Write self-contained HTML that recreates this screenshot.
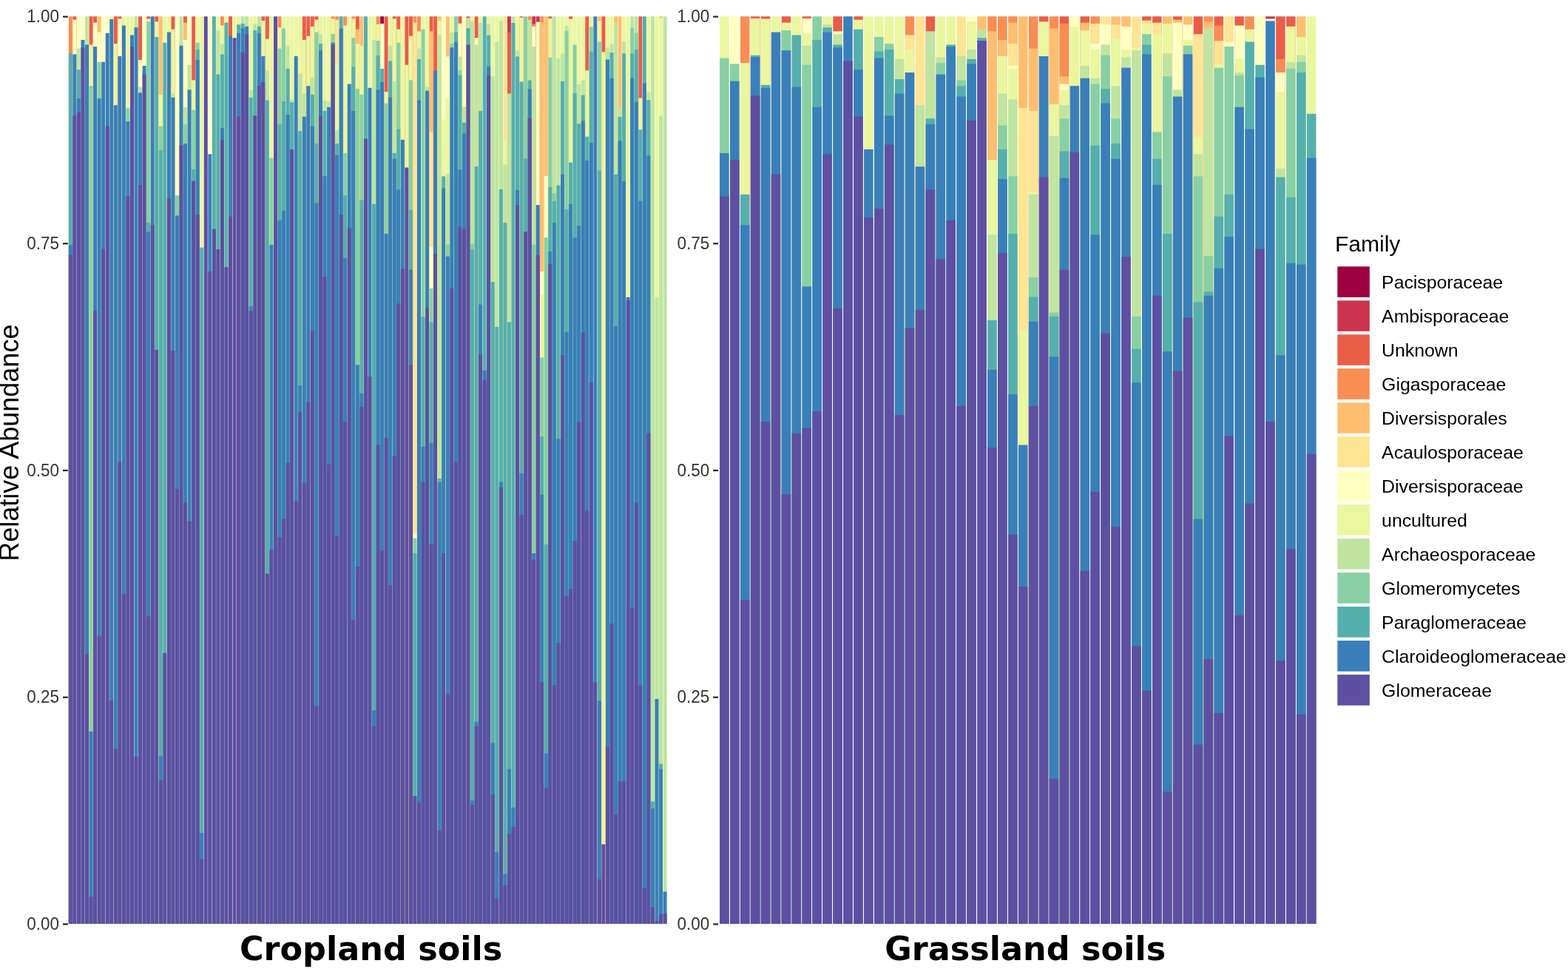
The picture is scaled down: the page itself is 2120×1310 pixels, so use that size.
<!DOCTYPE html>
<html><head><meta charset="utf-8"><style>
html,body{margin:0;padding:0;background:#fff;}
body{width:2120px;height:1310px;overflow:hidden;position:relative;}
svg{position:absolute;left:0;top:0;}
.tk{font-family:"Liberation Sans",Arial,sans-serif;font-size:22.5px;fill:#333;text-anchor:end;}
.lg{font-family:"Liberation Sans",Arial,sans-serif;font-size:24.8px;fill:#000;}
.ttl{font-family:"Liberation Sans",Arial,sans-serif;fill:#000;}
.fc{font-family:"DejaVu Sans",sans-serif;font-weight:bold;font-size:44.5px;fill:#000;}
</style></head><body>
<svg width="2120" height="1310" viewBox="0 0 2120 1310" shape-rendering="geometricPrecision">
<rect x="92.84" y="22.20" width="4.99" height="1226.80" fill="#F88E52"/>
<rect x="92.84" y="71.60" width="4.99" height="1177.40" fill="#55AFAD"/>
<rect x="92.84" y="331.60" width="4.99" height="917.40" fill="#397FB9"/>
<rect x="92.84" y="344.60" width="4.99" height="904.40" fill="#5E4FA2"/>
<rect x="98.38" y="22.20" width="4.99" height="1226.80" fill="#EA5D47"/>
<rect x="98.38" y="26.70" width="4.99" height="1222.30" fill="#FFFFBF"/>
<rect x="98.38" y="73.40" width="4.99" height="1175.60" fill="#397FB9"/>
<rect x="98.38" y="156.40" width="4.99" height="1092.60" fill="#5E4FA2"/>
<rect x="103.93" y="22.20" width="4.99" height="1226.80" fill="#FFFFBF"/>
<rect x="103.93" y="65.60" width="4.99" height="1183.40" fill="#BFE5A0"/>
<rect x="103.93" y="94.20" width="4.99" height="1154.80" fill="#55AFAD"/>
<rect x="103.93" y="133.10" width="4.99" height="1115.90" fill="#397FB9"/>
<rect x="103.93" y="151.30" width="4.99" height="1097.70" fill="#5E4FA2"/>
<rect x="109.47" y="22.20" width="4.99" height="1226.80" fill="#FFFFBF"/>
<rect x="109.47" y="53.90" width="4.99" height="1195.10" fill="#397FB9"/>
<rect x="109.47" y="64.30" width="4.99" height="1184.70" fill="#5E4FA2"/>
<rect x="115.01" y="22.20" width="4.99" height="1226.80" fill="#BFE5A0"/>
<rect x="115.01" y="60.40" width="4.99" height="1188.60" fill="#397FB9"/>
<rect x="115.01" y="884.00" width="4.99" height="365.00" fill="#5E4FA2"/>
<rect x="120.56" y="22.20" width="4.99" height="1226.80" fill="#EA5D47"/>
<rect x="120.56" y="60.40" width="4.99" height="1188.60" fill="#EAF79F"/>
<rect x="120.56" y="116.20" width="4.99" height="1132.80" fill="#88D0A4"/>
<rect x="120.56" y="988.80" width="4.99" height="260.20" fill="#397FB9"/>
<rect x="120.56" y="1212.40" width="4.99" height="36.60" fill="#5E4FA2"/>
<rect x="126.10" y="22.20" width="4.99" height="1226.80" fill="#EA5D47"/>
<rect x="126.10" y="30.60" width="4.99" height="1218.40" fill="#FFFFBF"/>
<rect x="126.10" y="63.00" width="4.99" height="1186.00" fill="#397FB9"/>
<rect x="126.10" y="420.00" width="4.99" height="829.00" fill="#5E4FA2"/>
<rect x="131.64" y="22.20" width="4.99" height="1226.80" fill="#FDBF6F"/>
<rect x="131.64" y="43.50" width="4.99" height="1205.50" fill="#FFFFBF"/>
<rect x="131.64" y="83.80" width="4.99" height="1165.20" fill="#88D0A4"/>
<rect x="131.64" y="133.10" width="4.99" height="1115.90" fill="#397FB9"/>
<rect x="131.64" y="859.80" width="4.99" height="389.20" fill="#5E4FA2"/>
<rect x="137.18" y="22.20" width="4.99" height="1226.80" fill="#FFFFBF"/>
<rect x="137.18" y="83.80" width="4.99" height="1165.20" fill="#397FB9"/>
<rect x="137.18" y="336.80" width="4.99" height="912.20" fill="#5E4FA2"/>
<rect x="142.73" y="22.20" width="4.99" height="1226.80" fill="#FFFFBF"/>
<rect x="142.73" y="44.80" width="4.99" height="1204.20" fill="#397FB9"/>
<rect x="142.73" y="170.70" width="4.99" height="1078.30" fill="#5E4FA2"/>
<rect x="148.27" y="22.20" width="4.99" height="1226.80" fill="#EAF79F"/>
<rect x="148.27" y="26.00" width="4.99" height="1223.00" fill="#397FB9"/>
<rect x="148.27" y="947.00" width="4.99" height="302.00" fill="#5E4FA2"/>
<rect x="153.81" y="22.20" width="4.99" height="1226.80" fill="#EA5D47"/>
<rect x="153.81" y="59.10" width="4.99" height="1189.90" fill="#EAF79F"/>
<rect x="153.81" y="142.20" width="4.99" height="1106.80" fill="#397FB9"/>
<rect x="153.81" y="1012.40" width="4.99" height="236.60" fill="#5E4FA2"/>
<rect x="159.36" y="22.20" width="4.99" height="1226.80" fill="#EA5D47"/>
<rect x="159.36" y="25.40" width="4.99" height="1223.60" fill="#FFFFBF"/>
<rect x="159.36" y="76.00" width="4.99" height="1173.00" fill="#397FB9"/>
<rect x="159.36" y="624.40" width="4.99" height="624.60" fill="#5E4FA2"/>
<rect x="164.90" y="22.20" width="4.99" height="1226.80" fill="#EAF79F"/>
<rect x="164.90" y="34.50" width="4.99" height="1214.50" fill="#397FB9"/>
<rect x="164.90" y="803.00" width="4.99" height="446.00" fill="#5E4FA2"/>
<rect x="170.44" y="22.20" width="4.99" height="1226.80" fill="#EAF79F"/>
<rect x="170.44" y="146.10" width="4.99" height="1102.90" fill="#88D0A4"/>
<rect x="170.44" y="164.20" width="4.99" height="1084.80" fill="#397FB9"/>
<rect x="170.44" y="265.50" width="4.99" height="983.50" fill="#5E4FA2"/>
<rect x="175.99" y="22.20" width="4.99" height="1226.80" fill="#EAF79F"/>
<rect x="175.99" y="47.40" width="4.99" height="1201.60" fill="#397FB9"/>
<rect x="175.99" y="63.00" width="4.99" height="1186.00" fill="#5E4FA2"/>
<rect x="181.53" y="22.20" width="4.99" height="1226.80" fill="#BFE5A0"/>
<rect x="181.53" y="37.10" width="4.99" height="1211.90" fill="#397FB9"/>
<rect x="181.53" y="1023.00" width="4.99" height="226.00" fill="#5E4FA2"/>
<rect x="187.07" y="22.20" width="4.99" height="1226.80" fill="#EA5D47"/>
<rect x="187.07" y="81.20" width="4.99" height="1167.80" fill="#FFFFBF"/>
<rect x="187.07" y="117.50" width="4.99" height="1131.50" fill="#BFE5A0"/>
<rect x="187.07" y="125.30" width="4.99" height="1123.70" fill="#397FB9"/>
<rect x="187.07" y="249.90" width="4.99" height="999.10" fill="#5E4FA2"/>
<rect x="192.61" y="22.20" width="4.99" height="1226.80" fill="#FFFFBF"/>
<rect x="192.61" y="89.00" width="4.99" height="1160.00" fill="#397FB9"/>
<rect x="192.61" y="100.60" width="4.99" height="1148.40" fill="#5E4FA2"/>
<rect x="198.16" y="22.20" width="4.99" height="1226.80" fill="#EA5D47"/>
<rect x="198.16" y="25.40" width="4.99" height="1223.60" fill="#EAF79F"/>
<rect x="198.16" y="29.30" width="4.99" height="1219.70" fill="#88D0A4"/>
<rect x="198.16" y="301.00" width="4.99" height="948.00" fill="#55AFAD"/>
<rect x="198.16" y="313.50" width="4.99" height="935.50" fill="#397FB9"/>
<rect x="198.16" y="833.40" width="4.99" height="415.60" fill="#5E4FA2"/>
<rect x="203.70" y="22.20" width="4.99" height="1226.80" fill="#397FB9"/>
<rect x="203.70" y="304.40" width="4.99" height="944.60" fill="#5E4FA2"/>
<rect x="209.24" y="22.20" width="4.99" height="1226.80" fill="#EA5D47"/>
<rect x="209.24" y="29.30" width="4.99" height="1219.70" fill="#EAF79F"/>
<rect x="209.24" y="50.00" width="4.99" height="1199.00" fill="#55AFAD"/>
<rect x="209.24" y="472.90" width="4.99" height="776.10" fill="#5E4FA2"/>
<rect x="214.79" y="22.20" width="4.99" height="1226.80" fill="#FDBF6F"/>
<rect x="214.79" y="127.90" width="4.99" height="1121.10" fill="#EAF79F"/>
<rect x="214.79" y="170.70" width="4.99" height="1078.30" fill="#88D0A4"/>
<rect x="214.79" y="203.20" width="4.99" height="1045.80" fill="#55AFAD"/>
<rect x="214.79" y="1021.90" width="4.99" height="227.10" fill="#397FB9"/>
<rect x="214.79" y="1055.00" width="4.99" height="194.00" fill="#5E4FA2"/>
<rect x="220.33" y="22.20" width="4.99" height="1226.80" fill="#EAF79F"/>
<rect x="220.33" y="57.80" width="4.99" height="1191.20" fill="#55AFAD"/>
<rect x="220.33" y="882.70" width="4.99" height="366.30" fill="#5E4FA2"/>
<rect x="225.87" y="22.20" width="4.99" height="1226.80" fill="#EAF79F"/>
<rect x="225.87" y="43.50" width="4.99" height="1205.50" fill="#397FB9"/>
<rect x="225.87" y="268.10" width="4.99" height="980.90" fill="#5E4FA2"/>
<rect x="231.42" y="22.20" width="4.99" height="1226.80" fill="#EA5D47"/>
<rect x="231.42" y="39.60" width="4.99" height="1209.40" fill="#EAF79F"/>
<rect x="231.42" y="126.60" width="4.99" height="1122.40" fill="#BFE5A0"/>
<rect x="231.42" y="131.80" width="4.99" height="1117.20" fill="#397FB9"/>
<rect x="231.42" y="474.00" width="4.99" height="775.00" fill="#5E4FA2"/>
<rect x="236.96" y="22.20" width="4.99" height="1226.80" fill="#FFFFBF"/>
<rect x="236.96" y="264.20" width="4.99" height="984.80" fill="#88D0A4"/>
<rect x="236.96" y="291.40" width="4.99" height="957.60" fill="#397FB9"/>
<rect x="236.96" y="661.40" width="4.99" height="587.60" fill="#5E4FA2"/>
<rect x="242.50" y="22.20" width="4.99" height="1226.80" fill="#BFE5A0"/>
<rect x="242.50" y="61.70" width="4.99" height="1187.30" fill="#397FB9"/>
<rect x="242.50" y="196.70" width="4.99" height="1052.30" fill="#5E4FA2"/>
<rect x="248.04" y="22.20" width="4.99" height="1226.80" fill="#EA5D47"/>
<rect x="248.04" y="30.60" width="4.99" height="1218.40" fill="#FDBF6F"/>
<rect x="248.04" y="53.90" width="4.99" height="1195.10" fill="#FFFFBF"/>
<rect x="248.04" y="144.80" width="4.99" height="1104.20" fill="#BFE5A0"/>
<rect x="248.04" y="168.10" width="4.99" height="1080.90" fill="#88D0A4"/>
<rect x="248.04" y="194.10" width="4.99" height="1054.90" fill="#397FB9"/>
<rect x="248.04" y="679.50" width="4.99" height="569.50" fill="#5E4FA2"/>
<rect x="253.59" y="22.20" width="4.99" height="1226.80" fill="#FFFFBF"/>
<rect x="253.59" y="87.70" width="4.99" height="1161.30" fill="#BFE5A0"/>
<rect x="253.59" y="121.40" width="4.99" height="1127.60" fill="#397FB9"/>
<rect x="253.59" y="704.70" width="4.99" height="544.30" fill="#5E4FA2"/>
<rect x="259.13" y="22.20" width="4.99" height="1226.80" fill="#EA5D47"/>
<rect x="259.13" y="108.40" width="4.99" height="1140.60" fill="#EAF79F"/>
<rect x="259.13" y="148.70" width="4.99" height="1100.30" fill="#88D0A4"/>
<rect x="259.13" y="229.10" width="4.99" height="1019.90" fill="#55AFAD"/>
<rect x="259.13" y="244.70" width="4.99" height="1004.30" fill="#5E4FA2"/>
<rect x="264.67" y="22.20" width="4.99" height="1226.80" fill="#EAF79F"/>
<rect x="264.67" y="57.80" width="4.99" height="1191.20" fill="#88D0A4"/>
<rect x="264.67" y="66.90" width="4.99" height="1182.10" fill="#55AFAD"/>
<rect x="264.67" y="81.20" width="4.99" height="1167.80" fill="#397FB9"/>
<rect x="264.67" y="290.10" width="4.99" height="958.90" fill="#5E4FA2"/>
<rect x="270.22" y="22.20" width="4.99" height="1226.80" fill="#EAF79F"/>
<rect x="270.22" y="334.60" width="4.99" height="914.40" fill="#55AFAD"/>
<rect x="270.22" y="1126.00" width="4.99" height="123.00" fill="#397FB9"/>
<rect x="270.22" y="1161.50" width="4.99" height="87.50" fill="#5E4FA2"/>
<rect x="275.76" y="22.20" width="4.99" height="1226.80" fill="#5E4FA2"/>
<rect x="281.30" y="22.20" width="4.99" height="1226.80" fill="#FFFFBF"/>
<rect x="281.30" y="208.40" width="4.99" height="1040.60" fill="#397FB9"/>
<rect x="281.30" y="367.10" width="4.99" height="881.90" fill="#5E4FA2"/>
<rect x="286.85" y="22.20" width="4.99" height="1226.80" fill="#55AFAD"/>
<rect x="286.85" y="309.60" width="4.99" height="939.40" fill="#5E4FA2"/>
<rect x="292.39" y="22.20" width="4.99" height="1226.80" fill="#EAF79F"/>
<rect x="292.39" y="41.00" width="4.99" height="1208.00" fill="#BFE5A0"/>
<rect x="292.39" y="100.60" width="4.99" height="1148.40" fill="#55AFAD"/>
<rect x="292.39" y="337.00" width="4.99" height="912.00" fill="#5E4FA2"/>
<rect x="297.93" y="22.20" width="4.99" height="1226.80" fill="#F88E52"/>
<rect x="297.93" y="34.50" width="4.99" height="1214.50" fill="#EAF79F"/>
<rect x="297.93" y="59.10" width="4.99" height="1189.90" fill="#BFE5A0"/>
<rect x="297.93" y="73.40" width="4.99" height="1175.60" fill="#55AFAD"/>
<rect x="297.93" y="173.30" width="4.99" height="1075.70" fill="#397FB9"/>
<rect x="297.93" y="188.90" width="4.99" height="1060.10" fill="#5E4FA2"/>
<rect x="303.47" y="22.20" width="4.99" height="1226.80" fill="#EAF79F"/>
<rect x="303.47" y="30.60" width="4.99" height="1218.40" fill="#55AFAD"/>
<rect x="303.47" y="361.10" width="4.99" height="887.90" fill="#5E4FA2"/>
<rect x="309.02" y="22.20" width="4.99" height="1226.80" fill="#EA5D47"/>
<rect x="309.02" y="48.70" width="4.99" height="1200.30" fill="#397FB9"/>
<rect x="309.02" y="292.70" width="4.99" height="956.30" fill="#5E4FA2"/>
<rect x="314.56" y="22.20" width="4.99" height="1226.80" fill="#EAF79F"/>
<rect x="314.56" y="51.30" width="4.99" height="1197.70" fill="#5E4FA2"/>
<rect x="320.10" y="22.20" width="4.99" height="1226.80" fill="#EAF79F"/>
<rect x="320.10" y="33.20" width="4.99" height="1215.80" fill="#55AFAD"/>
<rect x="320.10" y="44.80" width="4.99" height="1204.20" fill="#397FB9"/>
<rect x="320.10" y="157.70" width="4.99" height="1091.30" fill="#5E4FA2"/>
<rect x="325.65" y="22.20" width="4.99" height="1226.80" fill="#BFE5A0"/>
<rect x="325.65" y="31.90" width="4.99" height="1217.10" fill="#55AFAD"/>
<rect x="325.65" y="38.40" width="4.99" height="1210.60" fill="#397FB9"/>
<rect x="325.65" y="70.80" width="4.99" height="1178.20" fill="#5E4FA2"/>
<rect x="331.19" y="22.20" width="4.99" height="1226.80" fill="#BFE5A0"/>
<rect x="331.19" y="35.80" width="4.99" height="1213.20" fill="#397FB9"/>
<rect x="331.19" y="46.10" width="4.99" height="1202.90" fill="#5E4FA2"/>
<rect x="336.73" y="22.20" width="4.99" height="1226.80" fill="#EAF79F"/>
<rect x="336.73" y="121.40" width="4.99" height="1127.60" fill="#BFE5A0"/>
<rect x="336.73" y="131.80" width="4.99" height="1117.20" fill="#55AFAD"/>
<rect x="336.73" y="414.00" width="4.99" height="835.00" fill="#397FB9"/>
<rect x="336.73" y="420.00" width="4.99" height="829.00" fill="#5E4FA2"/>
<rect x="342.27" y="22.20" width="4.99" height="1226.80" fill="#EAF79F"/>
<rect x="342.27" y="31.90" width="4.99" height="1217.10" fill="#BFE5A0"/>
<rect x="342.27" y="41.00" width="4.99" height="1208.00" fill="#55AFAD"/>
<rect x="342.27" y="156.40" width="4.99" height="1092.60" fill="#5E4FA2"/>
<rect x="347.82" y="22.20" width="4.99" height="1226.80" fill="#BFE5A0"/>
<rect x="347.82" y="35.80" width="4.99" height="1213.20" fill="#55AFAD"/>
<rect x="347.82" y="44.80" width="4.99" height="1204.20" fill="#397FB9"/>
<rect x="347.82" y="116.20" width="4.99" height="1132.80" fill="#5E4FA2"/>
<rect x="353.36" y="22.20" width="4.99" height="1226.80" fill="#EA5D47"/>
<rect x="353.36" y="28.00" width="4.99" height="1221.00" fill="#EAF79F"/>
<rect x="353.36" y="76.00" width="4.99" height="1173.00" fill="#397FB9"/>
<rect x="353.36" y="111.00" width="4.99" height="1138.00" fill="#5E4FA2"/>
<rect x="358.90" y="22.20" width="4.99" height="1226.80" fill="#EA5D47"/>
<rect x="358.90" y="52.60" width="4.99" height="1196.40" fill="#EAF79F"/>
<rect x="358.90" y="95.50" width="4.99" height="1153.50" fill="#BFE5A0"/>
<rect x="358.90" y="135.70" width="4.99" height="1113.30" fill="#55AFAD"/>
<rect x="358.90" y="775.70" width="4.99" height="473.30" fill="#5E4FA2"/>
<rect x="364.45" y="22.20" width="4.99" height="1226.80" fill="#EAF79F"/>
<rect x="364.45" y="213.50" width="4.99" height="1035.50" fill="#88D0A4"/>
<rect x="364.45" y="331.00" width="4.99" height="918.00" fill="#397FB9"/>
<rect x="364.45" y="743.20" width="4.99" height="505.80" fill="#5E4FA2"/>
<rect x="369.99" y="22.20" width="4.99" height="1226.80" fill="#5E4FA2"/>
<rect x="375.53" y="22.20" width="4.99" height="1226.80" fill="#F88E52"/>
<rect x="375.53" y="37.10" width="4.99" height="1211.90" fill="#EAF79F"/>
<rect x="375.53" y="65.60" width="4.99" height="1183.40" fill="#88D0A4"/>
<rect x="375.53" y="168.10" width="4.99" height="1080.90" fill="#55AFAD"/>
<rect x="375.53" y="297.90" width="4.99" height="951.10" fill="#397FB9"/>
<rect x="375.53" y="726.40" width="4.99" height="522.60" fill="#5E4FA2"/>
<rect x="381.08" y="22.20" width="4.99" height="1226.80" fill="#EAF79F"/>
<rect x="381.08" y="38.40" width="4.99" height="1210.60" fill="#88D0A4"/>
<rect x="381.08" y="137.00" width="4.99" height="1112.00" fill="#55AFAD"/>
<rect x="381.08" y="284.90" width="4.99" height="964.10" fill="#397FB9"/>
<rect x="381.08" y="701.10" width="4.99" height="547.90" fill="#5E4FA2"/>
<rect x="386.62" y="22.20" width="4.99" height="1226.80" fill="#EAF79F"/>
<rect x="386.62" y="61.70" width="4.99" height="1187.30" fill="#BFE5A0"/>
<rect x="386.62" y="92.90" width="4.99" height="1156.10" fill="#55AFAD"/>
<rect x="386.62" y="155.10" width="4.99" height="1093.90" fill="#397FB9"/>
<rect x="386.62" y="625.60" width="4.99" height="623.40" fill="#5E4FA2"/>
<rect x="392.16" y="22.20" width="4.99" height="1226.80" fill="#EAF79F"/>
<rect x="392.16" y="134.40" width="4.99" height="1114.60" fill="#BFE5A0"/>
<rect x="392.16" y="138.30" width="4.99" height="1110.70" fill="#55AFAD"/>
<rect x="392.16" y="201.90" width="4.99" height="1047.10" fill="#5E4FA2"/>
<rect x="397.71" y="22.20" width="4.99" height="1226.80" fill="#EAF79F"/>
<rect x="397.71" y="76.00" width="4.99" height="1173.00" fill="#397FB9"/>
<rect x="397.71" y="677.10" width="4.99" height="571.90" fill="#5E4FA2"/>
<rect x="403.25" y="22.20" width="4.99" height="1226.80" fill="#EAF79F"/>
<rect x="403.25" y="99.30" width="4.99" height="1149.70" fill="#BFE5A0"/>
<rect x="403.25" y="177.20" width="4.99" height="1071.80" fill="#55AFAD"/>
<rect x="403.25" y="521.00" width="4.99" height="728.00" fill="#397FB9"/>
<rect x="403.25" y="557.00" width="4.99" height="692.00" fill="#5E4FA2"/>
<rect x="408.79" y="22.20" width="4.99" height="1226.80" fill="#EA5D47"/>
<rect x="408.79" y="53.90" width="4.99" height="1195.10" fill="#EAF79F"/>
<rect x="408.79" y="126.60" width="4.99" height="1122.40" fill="#BFE5A0"/>
<rect x="408.79" y="157.70" width="4.99" height="1091.30" fill="#397FB9"/>
<rect x="408.79" y="653.00" width="4.99" height="596.00" fill="#5E4FA2"/>
<rect x="414.33" y="22.20" width="4.99" height="1226.80" fill="#EA5D47"/>
<rect x="414.33" y="48.70" width="4.99" height="1200.30" fill="#EAF79F"/>
<rect x="414.33" y="116.20" width="4.99" height="1132.80" fill="#397FB9"/>
<rect x="414.33" y="543.80" width="4.99" height="705.20" fill="#5E4FA2"/>
<rect x="419.88" y="22.20" width="4.99" height="1226.80" fill="#EA5D47"/>
<rect x="419.88" y="35.80" width="4.99" height="1213.20" fill="#EAF79F"/>
<rect x="419.88" y="104.50" width="4.99" height="1144.50" fill="#BFE5A0"/>
<rect x="419.88" y="127.90" width="4.99" height="1121.10" fill="#55AFAD"/>
<rect x="419.88" y="170.70" width="4.99" height="1078.30" fill="#397FB9"/>
<rect x="419.88" y="447.60" width="4.99" height="801.40" fill="#5E4FA2"/>
<rect x="425.42" y="22.20" width="4.99" height="1226.80" fill="#EA5D47"/>
<rect x="425.42" y="26.70" width="4.99" height="1222.30" fill="#EAF79F"/>
<rect x="425.42" y="43.50" width="4.99" height="1205.50" fill="#88D0A4"/>
<rect x="425.42" y="194.10" width="4.99" height="1054.90" fill="#55AFAD"/>
<rect x="425.42" y="274.50" width="4.99" height="974.50" fill="#397FB9"/>
<rect x="425.42" y="954.50" width="4.99" height="294.50" fill="#5E4FA2"/>
<rect x="430.96" y="22.20" width="4.99" height="1226.80" fill="#EAF79F"/>
<rect x="430.96" y="46.10" width="4.99" height="1202.90" fill="#BFE5A0"/>
<rect x="430.96" y="59.10" width="4.99" height="1189.90" fill="#55AFAD"/>
<rect x="430.96" y="68.20" width="4.99" height="1180.80" fill="#397FB9"/>
<rect x="430.96" y="156.40" width="4.99" height="1092.60" fill="#5E4FA2"/>
<rect x="436.51" y="22.20" width="4.99" height="1226.80" fill="#EAF79F"/>
<rect x="436.51" y="135.70" width="4.99" height="1113.30" fill="#BFE5A0"/>
<rect x="436.51" y="150.00" width="4.99" height="1099.00" fill="#55AFAD"/>
<rect x="436.51" y="238.20" width="4.99" height="1010.80" fill="#397FB9"/>
<rect x="436.51" y="374.30" width="4.99" height="874.70" fill="#5E4FA2"/>
<rect x="442.05" y="22.20" width="4.99" height="1226.80" fill="#EAF79F"/>
<rect x="442.05" y="137.00" width="4.99" height="1112.00" fill="#BFE5A0"/>
<rect x="442.05" y="144.80" width="4.99" height="1104.20" fill="#397FB9"/>
<rect x="442.05" y="628.00" width="4.99" height="621.00" fill="#5E4FA2"/>
<rect x="447.59" y="22.20" width="4.99" height="1226.80" fill="#F88E52"/>
<rect x="447.59" y="25.40" width="4.99" height="1223.60" fill="#EAF79F"/>
<rect x="447.59" y="46.10" width="4.99" height="1202.90" fill="#88D0A4"/>
<rect x="447.59" y="57.80" width="4.99" height="1191.20" fill="#397FB9"/>
<rect x="447.59" y="60.40" width="4.99" height="1188.60" fill="#5E4FA2"/>
<rect x="453.13" y="22.20" width="4.99" height="1226.80" fill="#F88E52"/>
<rect x="453.13" y="26.70" width="4.99" height="1222.30" fill="#FEE594"/>
<rect x="453.13" y="87.70" width="4.99" height="1161.30" fill="#EAF79F"/>
<rect x="453.13" y="175.90" width="4.99" height="1073.10" fill="#BFE5A0"/>
<rect x="453.13" y="194.10" width="4.99" height="1054.90" fill="#55AFAD"/>
<rect x="453.13" y="209.70" width="4.99" height="1039.30" fill="#397FB9"/>
<rect x="453.13" y="725.20" width="4.99" height="523.80" fill="#5E4FA2"/>
<rect x="458.68" y="22.20" width="4.99" height="1226.80" fill="#55AFAD"/>
<rect x="458.68" y="38.40" width="4.99" height="1210.60" fill="#397FB9"/>
<rect x="458.68" y="290.10" width="4.99" height="958.90" fill="#5E4FA2"/>
<rect x="464.22" y="22.20" width="4.99" height="1226.80" fill="#F88E52"/>
<rect x="464.22" y="34.50" width="4.99" height="1214.50" fill="#EAF79F"/>
<rect x="464.22" y="207.00" width="4.99" height="1042.00" fill="#88D0A4"/>
<rect x="464.22" y="264.20" width="4.99" height="984.80" fill="#55AFAD"/>
<rect x="464.22" y="349.00" width="4.99" height="900.00" fill="#397FB9"/>
<rect x="464.22" y="570.30" width="4.99" height="678.70" fill="#5E4FA2"/>
<rect x="469.76" y="22.20" width="4.99" height="1226.80" fill="#EAF79F"/>
<rect x="469.76" y="113.60" width="4.99" height="1135.40" fill="#397FB9"/>
<rect x="469.76" y="308.30" width="4.99" height="940.70" fill="#5E4FA2"/>
<rect x="475.31" y="22.20" width="4.99" height="1226.80" fill="#F88E52"/>
<rect x="475.31" y="25.40" width="4.99" height="1223.60" fill="#EAF79F"/>
<rect x="475.31" y="51.30" width="4.99" height="1197.70" fill="#88D0A4"/>
<rect x="475.31" y="90.30" width="4.99" height="1158.70" fill="#55AFAD"/>
<rect x="475.31" y="150.00" width="4.99" height="1099.00" fill="#397FB9"/>
<rect x="475.31" y="838.20" width="4.99" height="410.80" fill="#5E4FA2"/>
<rect x="480.85" y="22.20" width="4.99" height="1226.80" fill="#EA5D47"/>
<rect x="480.85" y="39.60" width="4.99" height="1209.40" fill="#FDBF6F"/>
<rect x="480.85" y="59.10" width="4.99" height="1189.90" fill="#EAF79F"/>
<rect x="480.85" y="120.10" width="4.99" height="1128.90" fill="#88D0A4"/>
<rect x="480.85" y="493.30" width="4.99" height="755.70" fill="#397FB9"/>
<rect x="480.85" y="766.00" width="4.99" height="483.00" fill="#5E4FA2"/>
<rect x="486.39" y="22.20" width="4.99" height="1226.80" fill="#FDBF6F"/>
<rect x="486.39" y="61.70" width="4.99" height="1187.30" fill="#EAF79F"/>
<rect x="486.39" y="127.90" width="4.99" height="1121.10" fill="#88D0A4"/>
<rect x="486.39" y="270.60" width="4.99" height="978.40" fill="#55AFAD"/>
<rect x="486.39" y="531.80" width="4.99" height="717.20" fill="#397FB9"/>
<rect x="486.39" y="549.80" width="4.99" height="699.20" fill="#5E4FA2"/>
<rect x="491.94" y="22.20" width="4.99" height="1226.80" fill="#55AFAD"/>
<rect x="491.94" y="187.60" width="4.99" height="1061.40" fill="#5E4FA2"/>
<rect x="497.48" y="22.20" width="4.99" height="1226.80" fill="#EAF79F"/>
<rect x="497.48" y="118.80" width="4.99" height="1130.20" fill="#397FB9"/>
<rect x="497.48" y="509.00" width="4.99" height="740.00" fill="#5E4FA2"/>
<rect x="503.02" y="22.20" width="4.99" height="1226.80" fill="#EAF79F"/>
<rect x="503.02" y="53.90" width="4.99" height="1195.10" fill="#BFE5A0"/>
<rect x="503.02" y="275.80" width="4.99" height="973.20" fill="#55AFAD"/>
<rect x="503.02" y="960.40" width="4.99" height="288.60" fill="#397FB9"/>
<rect x="503.02" y="981.70" width="4.99" height="267.30" fill="#5E4FA2"/>
<rect x="508.57" y="22.20" width="4.99" height="1226.80" fill="#F88E52"/>
<rect x="508.57" y="33.00" width="4.99" height="1216.00" fill="#EAF79F"/>
<rect x="508.57" y="55.00" width="4.99" height="1194.00" fill="#88D0A4"/>
<rect x="508.57" y="75.00" width="4.99" height="1174.00" fill="#55AFAD"/>
<rect x="508.57" y="121.50" width="4.99" height="1127.50" fill="#397FB9"/>
<rect x="508.57" y="601.50" width="4.99" height="647.50" fill="#5E4FA2"/>
<rect x="514.11" y="22.20" width="4.99" height="1226.80" fill="#9E0142"/>
<rect x="514.11" y="31.90" width="4.99" height="1217.10" fill="#FFFFBF"/>
<rect x="514.11" y="92.90" width="4.99" height="1156.10" fill="#55AFAD"/>
<rect x="514.11" y="111.00" width="4.99" height="1138.00" fill="#397FB9"/>
<rect x="514.11" y="744.40" width="4.99" height="504.60" fill="#5E4FA2"/>
<rect x="519.65" y="22.20" width="4.99" height="1226.80" fill="#EA5D47"/>
<rect x="519.65" y="124.00" width="4.99" height="1125.00" fill="#EAF79F"/>
<rect x="519.65" y="139.60" width="4.99" height="1109.40" fill="#88D0A4"/>
<rect x="519.65" y="316.00" width="4.99" height="933.00" fill="#397FB9"/>
<rect x="519.65" y="591.90" width="4.99" height="657.10" fill="#5E4FA2"/>
<rect x="525.19" y="22.20" width="4.99" height="1226.80" fill="#EAF79F"/>
<rect x="525.19" y="61.70" width="4.99" height="1187.30" fill="#BFE5A0"/>
<rect x="525.19" y="82.50" width="4.99" height="1166.50" fill="#55AFAD"/>
<rect x="525.19" y="131.80" width="4.99" height="1117.20" fill="#397FB9"/>
<rect x="525.19" y="791.30" width="4.99" height="457.70" fill="#5E4FA2"/>
<rect x="530.74" y="22.20" width="4.99" height="1226.80" fill="#EA5D47"/>
<rect x="530.74" y="25.40" width="4.99" height="1223.60" fill="#EAF79F"/>
<rect x="530.74" y="110.00" width="4.99" height="1139.00" fill="#BFE5A0"/>
<rect x="530.74" y="207.00" width="4.99" height="1042.00" fill="#55AFAD"/>
<rect x="530.74" y="214.80" width="4.99" height="1034.20" fill="#397FB9"/>
<rect x="530.74" y="616.00" width="4.99" height="633.00" fill="#5E4FA2"/>
<rect x="536.28" y="22.20" width="4.99" height="1226.80" fill="#EA5D47"/>
<rect x="536.28" y="39.60" width="4.99" height="1209.40" fill="#EAF79F"/>
<rect x="536.28" y="57.80" width="4.99" height="1191.20" fill="#88D0A4"/>
<rect x="536.28" y="174.60" width="4.99" height="1074.40" fill="#55AFAD"/>
<rect x="536.28" y="256.40" width="4.99" height="992.60" fill="#397FB9"/>
<rect x="536.28" y="410.40" width="4.99" height="838.60" fill="#5E4FA2"/>
<rect x="541.82" y="22.20" width="4.99" height="1226.80" fill="#EAF79F"/>
<rect x="541.82" y="188.90" width="4.99" height="1060.10" fill="#397FB9"/>
<rect x="541.82" y="363.50" width="4.99" height="885.50" fill="#5E4FA2"/>
<rect x="547.37" y="22.20" width="4.99" height="1226.80" fill="#EA5D47"/>
<rect x="547.37" y="87.70" width="4.99" height="1161.30" fill="#EAF79F"/>
<rect x="547.37" y="226.50" width="4.99" height="1022.50" fill="#5E4FA2"/>
<rect x="552.91" y="22.20" width="4.99" height="1226.80" fill="#EA5D47"/>
<rect x="552.91" y="48.70" width="4.99" height="1200.30" fill="#EAF79F"/>
<rect x="552.91" y="108.40" width="4.99" height="1140.60" fill="#88D0A4"/>
<rect x="552.91" y="283.70" width="4.99" height="965.30" fill="#55AFAD"/>
<rect x="552.91" y="364.70" width="4.99" height="884.30" fill="#397FB9"/>
<rect x="552.91" y="493.30" width="4.99" height="755.70" fill="#5E4FA2"/>
<rect x="558.45" y="22.20" width="4.99" height="1226.80" fill="#F88E52"/>
<rect x="558.45" y="30.60" width="4.99" height="1218.40" fill="#FEE594"/>
<rect x="558.45" y="721.60" width="4.99" height="527.40" fill="#FFFFBF"/>
<rect x="558.45" y="727.60" width="4.99" height="521.40" fill="#88D0A4"/>
<rect x="558.45" y="748.00" width="4.99" height="501.00" fill="#55AFAD"/>
<rect x="558.45" y="1076.30" width="4.99" height="172.70" fill="#5E4FA2"/>
<rect x="564.00" y="22.20" width="4.99" height="1226.80" fill="#F88E52"/>
<rect x="564.00" y="42.30" width="4.99" height="1206.70" fill="#EAF79F"/>
<rect x="564.00" y="65.60" width="4.99" height="1183.40" fill="#BFE5A0"/>
<rect x="564.00" y="79.90" width="4.99" height="1169.10" fill="#55AFAD"/>
<rect x="564.00" y="135.70" width="4.99" height="1113.30" fill="#397FB9"/>
<rect x="564.00" y="1084.60" width="4.99" height="164.40" fill="#5E4FA2"/>
<rect x="569.54" y="22.20" width="4.99" height="1226.80" fill="#EAF79F"/>
<rect x="569.54" y="39.60" width="4.99" height="1209.40" fill="#88D0A4"/>
<rect x="569.54" y="428.40" width="4.99" height="820.60" fill="#55AFAD"/>
<rect x="569.54" y="603.90" width="4.99" height="645.10" fill="#397FB9"/>
<rect x="569.54" y="651.80" width="4.99" height="597.20" fill="#5E4FA2"/>
<rect x="575.08" y="22.20" width="4.99" height="1226.80" fill="#EAF79F"/>
<rect x="575.08" y="117.50" width="4.99" height="1131.50" fill="#BFE5A0"/>
<rect x="575.08" y="122.70" width="4.99" height="1126.30" fill="#397FB9"/>
<rect x="575.08" y="416.40" width="4.99" height="832.60" fill="#5E4FA2"/>
<rect x="580.62" y="22.20" width="4.99" height="1226.80" fill="#EA5D47"/>
<rect x="580.62" y="42.30" width="4.99" height="1206.70" fill="#FDBF6F"/>
<rect x="580.62" y="178.50" width="4.99" height="1070.50" fill="#FEE594"/>
<rect x="580.62" y="334.00" width="4.99" height="915.00" fill="#FFFFBF"/>
<rect x="580.62" y="390.00" width="4.99" height="859.00" fill="#88D0A4"/>
<rect x="580.62" y="435.60" width="4.99" height="813.40" fill="#55AFAD"/>
<rect x="580.62" y="599.10" width="4.99" height="649.90" fill="#397FB9"/>
<rect x="580.62" y="736.00" width="4.99" height="513.00" fill="#5E4FA2"/>
<rect x="586.17" y="22.20" width="4.99" height="1226.80" fill="#EA5D47"/>
<rect x="586.17" y="95.50" width="4.99" height="1153.50" fill="#397FB9"/>
<rect x="586.17" y="343.00" width="4.99" height="906.00" fill="#5E4FA2"/>
<rect x="591.71" y="22.20" width="4.99" height="1226.80" fill="#FDBF6F"/>
<rect x="591.71" y="28.40" width="4.99" height="1220.60" fill="#EAF79F"/>
<rect x="591.71" y="47.10" width="4.99" height="1201.90" fill="#BFE5A0"/>
<rect x="591.71" y="647.00" width="4.99" height="602.00" fill="#55AFAD"/>
<rect x="591.71" y="651.80" width="4.99" height="597.20" fill="#397FB9"/>
<rect x="591.71" y="1122.50" width="4.99" height="126.50" fill="#5E4FA2"/>
<rect x="597.25" y="22.20" width="4.99" height="1226.80" fill="#FFFFBF"/>
<rect x="597.25" y="162.00" width="4.99" height="1087.00" fill="#EAF79F"/>
<rect x="597.25" y="238.40" width="4.99" height="1010.60" fill="#55AFAD"/>
<rect x="597.25" y="254.50" width="4.99" height="994.50" fill="#397FB9"/>
<rect x="597.25" y="748.00" width="4.99" height="501.00" fill="#5E4FA2"/>
<rect x="602.80" y="22.20" width="4.99" height="1226.80" fill="#FDBF6F"/>
<rect x="602.80" y="76.40" width="4.99" height="1172.60" fill="#FFFFBF"/>
<rect x="602.80" y="132.50" width="4.99" height="1116.50" fill="#EAF79F"/>
<rect x="602.80" y="235.00" width="4.99" height="1014.00" fill="#BFE5A0"/>
<rect x="602.80" y="330.60" width="4.99" height="918.40" fill="#88D0A4"/>
<rect x="602.80" y="346.60" width="4.99" height="902.40" fill="#397FB9"/>
<rect x="602.80" y="938.00" width="4.99" height="311.00" fill="#5E4FA2"/>
<rect x="608.34" y="22.20" width="4.99" height="1226.80" fill="#EAF79F"/>
<rect x="608.34" y="43.70" width="4.99" height="1205.30" fill="#BFE5A0"/>
<rect x="608.34" y="59.10" width="4.99" height="1189.90" fill="#88D0A4"/>
<rect x="608.34" y="64.40" width="4.99" height="1184.60" fill="#397FB9"/>
<rect x="608.34" y="389.80" width="4.99" height="859.20" fill="#5E4FA2"/>
<rect x="613.88" y="22.20" width="4.99" height="1226.80" fill="#88D0A4"/>
<rect x="613.88" y="43.70" width="4.99" height="1205.30" fill="#55AFAD"/>
<rect x="613.88" y="57.10" width="4.99" height="1191.90" fill="#397FB9"/>
<rect x="613.88" y="624.80" width="4.99" height="624.20" fill="#5E4FA2"/>
<rect x="619.43" y="22.20" width="4.99" height="1226.80" fill="#EA5D47"/>
<rect x="619.43" y="31.70" width="4.99" height="1217.30" fill="#FFFFBF"/>
<rect x="619.43" y="76.40" width="4.99" height="1172.60" fill="#BFE5A0"/>
<rect x="619.43" y="95.20" width="4.99" height="1153.80" fill="#88D0A4"/>
<rect x="619.43" y="101.80" width="4.99" height="1147.20" fill="#55AFAD"/>
<rect x="619.43" y="229.10" width="4.99" height="1019.90" fill="#397FB9"/>
<rect x="619.43" y="306.60" width="4.99" height="942.40" fill="#5E4FA2"/>
<rect x="624.97" y="22.20" width="4.99" height="1226.80" fill="#FFFFBF"/>
<rect x="624.97" y="144.60" width="4.99" height="1104.40" fill="#BFE5A0"/>
<rect x="624.97" y="166.00" width="4.99" height="1083.00" fill="#55AFAD"/>
<rect x="624.97" y="180.60" width="4.99" height="1068.40" fill="#397FB9"/>
<rect x="624.97" y="309.20" width="4.99" height="939.80" fill="#5E4FA2"/>
<rect x="630.51" y="22.20" width="4.99" height="1226.80" fill="#EA5D47"/>
<rect x="630.51" y="24.30" width="4.99" height="1224.70" fill="#BFE5A0"/>
<rect x="630.51" y="38.40" width="4.99" height="1210.60" fill="#55AFAD"/>
<rect x="630.51" y="60.40" width="4.99" height="1188.60" fill="#5E4FA2"/>
<rect x="636.05" y="22.20" width="4.99" height="1226.80" fill="#EAF79F"/>
<rect x="636.05" y="28.40" width="4.99" height="1220.60" fill="#BFE5A0"/>
<rect x="636.05" y="329.30" width="4.99" height="919.70" fill="#88D0A4"/>
<rect x="636.05" y="337.30" width="4.99" height="911.70" fill="#55AFAD"/>
<rect x="636.05" y="1082.20" width="4.99" height="166.80" fill="#397FB9"/>
<rect x="636.05" y="1088.20" width="4.99" height="160.80" fill="#5E4FA2"/>
<rect x="641.60" y="22.20" width="4.99" height="1226.80" fill="#EA5D47"/>
<rect x="641.60" y="51.10" width="4.99" height="1197.90" fill="#FFFFBF"/>
<rect x="641.60" y="60.40" width="4.99" height="1188.60" fill="#BFE5A0"/>
<rect x="641.60" y="225.10" width="4.99" height="1023.90" fill="#55AFAD"/>
<rect x="641.60" y="975.80" width="4.99" height="273.20" fill="#397FB9"/>
<rect x="641.60" y="981.70" width="4.99" height="267.30" fill="#5E4FA2"/>
<rect x="647.14" y="22.20" width="4.99" height="1226.80" fill="#EAF79F"/>
<rect x="647.14" y="31.00" width="4.99" height="1218.00" fill="#BFE5A0"/>
<rect x="647.14" y="149.90" width="4.99" height="1099.10" fill="#55AFAD"/>
<rect x="647.14" y="411.60" width="4.99" height="837.40" fill="#397FB9"/>
<rect x="647.14" y="479.00" width="4.99" height="770.00" fill="#5E4FA2"/>
<rect x="652.68" y="22.20" width="4.99" height="1226.80" fill="#55AFAD"/>
<rect x="652.68" y="500.80" width="4.99" height="748.20" fill="#397FB9"/>
<rect x="652.68" y="513.80" width="4.99" height="735.20" fill="#5E4FA2"/>
<rect x="658.23" y="22.20" width="4.99" height="1226.80" fill="#EAF79F"/>
<rect x="658.23" y="32.40" width="4.99" height="1216.60" fill="#BFE5A0"/>
<rect x="658.23" y="47.70" width="4.99" height="1201.30" fill="#55AFAD"/>
<rect x="658.23" y="89.80" width="4.99" height="1159.20" fill="#397FB9"/>
<rect x="658.23" y="101.80" width="4.99" height="1147.20" fill="#5E4FA2"/>
<rect x="663.77" y="22.20" width="4.99" height="1226.80" fill="#EAF79F"/>
<rect x="663.77" y="103.20" width="4.99" height="1145.80" fill="#BFE5A0"/>
<rect x="663.77" y="381.10" width="4.99" height="867.90" fill="#55AFAD"/>
<rect x="663.77" y="1004.20" width="4.99" height="244.80" fill="#397FB9"/>
<rect x="663.77" y="1074.00" width="4.99" height="175.00" fill="#5E4FA2"/>
<rect x="669.31" y="22.20" width="4.99" height="1226.80" fill="#EAF79F"/>
<rect x="669.31" y="56.40" width="4.99" height="1192.60" fill="#BFE5A0"/>
<rect x="669.31" y="442.00" width="4.99" height="807.00" fill="#55AFAD"/>
<rect x="669.31" y="1152.00" width="4.99" height="97.00" fill="#397FB9"/>
<rect x="669.31" y="1214.80" width="4.99" height="34.20" fill="#5E4FA2"/>
<rect x="674.86" y="22.20" width="4.99" height="1226.80" fill="#EAF79F"/>
<rect x="674.86" y="28.40" width="4.99" height="1220.60" fill="#BFE5A0"/>
<rect x="674.86" y="255.80" width="4.99" height="993.20" fill="#55AFAD"/>
<rect x="674.86" y="651.80" width="4.99" height="597.20" fill="#397FB9"/>
<rect x="674.86" y="659.00" width="4.99" height="590.00" fill="#5E4FA2"/>
<rect x="680.40" y="22.20" width="4.99" height="1226.80" fill="#FEE594"/>
<rect x="680.40" y="189.00" width="4.99" height="1060.00" fill="#EAF79F"/>
<rect x="680.40" y="222.40" width="4.99" height="1026.60" fill="#BFE5A0"/>
<rect x="680.40" y="301.20" width="4.99" height="947.80" fill="#55AFAD"/>
<rect x="680.40" y="1181.60" width="4.99" height="67.40" fill="#397FB9"/>
<rect x="680.40" y="1197.00" width="4.99" height="52.00" fill="#5E4FA2"/>
<rect x="685.94" y="22.20" width="4.99" height="1226.80" fill="#CC344D"/>
<rect x="685.94" y="43.70" width="4.99" height="1205.30" fill="#EA5D47"/>
<rect x="685.94" y="126.50" width="4.99" height="1122.50" fill="#BFE5A0"/>
<rect x="685.94" y="435.50" width="4.99" height="813.50" fill="#55AFAD"/>
<rect x="685.94" y="1039.70" width="4.99" height="209.30" fill="#397FB9"/>
<rect x="685.94" y="1127.20" width="4.99" height="121.80" fill="#5E4FA2"/>
<rect x="691.48" y="22.20" width="4.99" height="1226.80" fill="#BFE5A0"/>
<rect x="691.48" y="31.00" width="4.99" height="1218.00" fill="#55AFAD"/>
<rect x="691.48" y="1091.70" width="4.99" height="157.30" fill="#397FB9"/>
<rect x="691.48" y="1117.70" width="4.99" height="131.30" fill="#5E4FA2"/>
<rect x="697.03" y="22.20" width="4.99" height="1226.80" fill="#EAF79F"/>
<rect x="697.03" y="68.40" width="4.99" height="1180.60" fill="#BFE5A0"/>
<rect x="697.03" y="76.40" width="4.99" height="1172.60" fill="#55AFAD"/>
<rect x="697.03" y="257.10" width="4.99" height="991.90" fill="#397FB9"/>
<rect x="697.03" y="277.20" width="4.99" height="971.80" fill="#5E4FA2"/>
<rect x="702.57" y="22.20" width="4.99" height="1226.80" fill="#EA5D47"/>
<rect x="702.57" y="23.70" width="4.99" height="1225.30" fill="#EAF79F"/>
<rect x="702.57" y="110.50" width="4.99" height="1138.50" fill="#55AFAD"/>
<rect x="702.57" y="639.80" width="4.99" height="609.20" fill="#397FB9"/>
<rect x="702.57" y="696.30" width="4.99" height="552.70" fill="#5E4FA2"/>
<rect x="708.11" y="22.20" width="4.99" height="1226.80" fill="#88D0A4"/>
<rect x="708.11" y="214.40" width="4.99" height="1034.60" fill="#55AFAD"/>
<rect x="708.11" y="313.20" width="4.99" height="935.80" fill="#5E4FA2"/>
<rect x="713.66" y="22.20" width="4.99" height="1226.80" fill="#F88E52"/>
<rect x="713.66" y="27.00" width="4.99" height="1222.00" fill="#BFE5A0"/>
<rect x="713.66" y="108.50" width="4.99" height="1140.50" fill="#55AFAD"/>
<rect x="713.66" y="120.50" width="4.99" height="1128.50" fill="#397FB9"/>
<rect x="713.66" y="160.00" width="4.99" height="1089.00" fill="#5E4FA2"/>
<rect x="719.20" y="22.20" width="4.99" height="1226.80" fill="#CC344D"/>
<rect x="719.20" y="32.40" width="4.99" height="1216.60" fill="#F88E52"/>
<rect x="719.20" y="35.70" width="4.99" height="1213.30" fill="#FFFFBF"/>
<rect x="719.20" y="63.10" width="4.99" height="1185.90" fill="#BFE5A0"/>
<rect x="719.20" y="330.60" width="4.99" height="918.40" fill="#88D0A4"/>
<rect x="719.20" y="748.00" width="4.99" height="501.00" fill="#397FB9"/>
<rect x="719.20" y="756.40" width="4.99" height="492.60" fill="#5E4FA2"/>
<rect x="724.74" y="22.20" width="4.99" height="1226.80" fill="#CC344D"/>
<rect x="724.74" y="29.70" width="4.99" height="1219.30" fill="#FFFFBF"/>
<rect x="724.74" y="277.20" width="4.99" height="971.80" fill="#397FB9"/>
<rect x="724.74" y="345.30" width="4.99" height="903.70" fill="#5E4FA2"/>
<rect x="730.29" y="22.20" width="4.99" height="1226.80" fill="#F88E52"/>
<rect x="730.29" y="30.40" width="4.99" height="1218.60" fill="#FDBF6F"/>
<rect x="730.29" y="367.00" width="4.99" height="882.00" fill="#FFFFBF"/>
<rect x="730.29" y="398.50" width="4.99" height="850.50" fill="#EAF79F"/>
<rect x="730.29" y="483.40" width="4.99" height="765.60" fill="#88D0A4"/>
<rect x="730.29" y="590.00" width="4.99" height="659.00" fill="#55AFAD"/>
<rect x="730.29" y="668.70" width="4.99" height="580.30" fill="#397FB9"/>
<rect x="730.29" y="922.30" width="4.99" height="326.70" fill="#5E4FA2"/>
<rect x="735.83" y="22.20" width="4.99" height="1226.80" fill="#FDBF6F"/>
<rect x="735.83" y="237.80" width="4.99" height="1011.20" fill="#FFFFBF"/>
<rect x="735.83" y="321.30" width="4.99" height="927.70" fill="#88D0A4"/>
<rect x="735.83" y="736.00" width="4.99" height="513.00" fill="#55AFAD"/>
<rect x="735.83" y="1018.40" width="4.99" height="230.60" fill="#397FB9"/>
<rect x="735.83" y="1065.70" width="4.99" height="183.30" fill="#5E4FA2"/>
<rect x="741.37" y="22.20" width="4.99" height="1226.80" fill="#EA5D47"/>
<rect x="741.37" y="25.00" width="4.99" height="1224.00" fill="#EAF79F"/>
<rect x="741.37" y="77.80" width="4.99" height="1171.20" fill="#88D0A4"/>
<rect x="741.37" y="253.10" width="4.99" height="995.90" fill="#55AFAD"/>
<rect x="741.37" y="340.00" width="4.99" height="909.00" fill="#397FB9"/>
<rect x="741.37" y="357.00" width="4.99" height="892.00" fill="#5E4FA2"/>
<rect x="746.91" y="22.20" width="4.99" height="1226.80" fill="#BFE5A0"/>
<rect x="746.91" y="261.10" width="4.99" height="987.90" fill="#88D0A4"/>
<rect x="746.91" y="271.80" width="4.99" height="977.20" fill="#55AFAD"/>
<rect x="746.91" y="301.20" width="4.99" height="947.80" fill="#397FB9"/>
<rect x="746.91" y="926.00" width="4.99" height="323.00" fill="#5E4FA2"/>
<rect x="752.46" y="22.20" width="4.99" height="1226.80" fill="#EAF79F"/>
<rect x="752.46" y="79.00" width="4.99" height="1170.00" fill="#BFE5A0"/>
<rect x="752.46" y="250.50" width="4.99" height="998.50" fill="#55AFAD"/>
<rect x="752.46" y="593.30" width="4.99" height="655.70" fill="#397FB9"/>
<rect x="752.46" y="869.40" width="4.99" height="379.60" fill="#5E4FA2"/>
<rect x="758.00" y="22.20" width="4.99" height="1226.80" fill="#EAF79F"/>
<rect x="758.00" y="72.40" width="4.99" height="1176.60" fill="#BFE5A0"/>
<rect x="758.00" y="109.80" width="4.99" height="1139.20" fill="#55AFAD"/>
<rect x="758.00" y="235.80" width="4.99" height="1013.20" fill="#397FB9"/>
<rect x="758.00" y="480.10" width="4.99" height="768.90" fill="#5E4FA2"/>
<rect x="763.54" y="22.20" width="4.99" height="1226.80" fill="#EAF79F"/>
<rect x="763.54" y="35.00" width="4.99" height="1214.00" fill="#BFE5A0"/>
<rect x="763.54" y="41.70" width="4.99" height="1207.30" fill="#88D0A4"/>
<rect x="763.54" y="283.20" width="4.99" height="965.80" fill="#55AFAD"/>
<rect x="763.54" y="448.60" width="4.99" height="800.40" fill="#397FB9"/>
<rect x="763.54" y="805.70" width="4.99" height="443.30" fill="#5E4FA2"/>
<rect x="769.09" y="22.20" width="4.99" height="1226.80" fill="#EA5D47"/>
<rect x="769.09" y="25.70" width="4.99" height="1223.30" fill="#EAF79F"/>
<rect x="769.09" y="219.70" width="4.99" height="1029.30" fill="#55AFAD"/>
<rect x="769.09" y="275.80" width="4.99" height="973.20" fill="#397FB9"/>
<rect x="769.09" y="796.10" width="4.99" height="452.90" fill="#5E4FA2"/>
<rect x="774.63" y="22.20" width="4.99" height="1226.80" fill="#EAF79F"/>
<rect x="774.63" y="60.40" width="4.99" height="1188.60" fill="#88D0A4"/>
<rect x="774.63" y="125.90" width="4.99" height="1123.10" fill="#55AFAD"/>
<rect x="774.63" y="321.30" width="4.99" height="927.70" fill="#397FB9"/>
<rect x="774.63" y="731.20" width="4.99" height="517.80" fill="#5E4FA2"/>
<rect x="780.17" y="22.20" width="4.99" height="1226.80" fill="#EAF79F"/>
<rect x="780.17" y="113.90" width="4.99" height="1135.10" fill="#BFE5A0"/>
<rect x="780.17" y="167.30" width="4.99" height="1081.70" fill="#55AFAD"/>
<rect x="780.17" y="305.20" width="4.99" height="943.80" fill="#397FB9"/>
<rect x="780.17" y="570.40" width="4.99" height="678.60" fill="#5E4FA2"/>
<rect x="785.72" y="22.20" width="4.99" height="1226.80" fill="#EAF79F"/>
<rect x="785.72" y="108.50" width="4.99" height="1140.50" fill="#BFE5A0"/>
<rect x="785.72" y="128.50" width="4.99" height="1120.50" fill="#55AFAD"/>
<rect x="785.72" y="163.30" width="4.99" height="1085.70" fill="#397FB9"/>
<rect x="785.72" y="449.60" width="4.99" height="799.40" fill="#5E4FA2"/>
<rect x="791.26" y="22.20" width="4.99" height="1226.80" fill="#EA5D47"/>
<rect x="791.26" y="95.10" width="4.99" height="1153.90" fill="#EAF79F"/>
<rect x="791.26" y="184.70" width="4.99" height="1064.30" fill="#55AFAD"/>
<rect x="791.26" y="217.10" width="4.99" height="1031.90" fill="#397FB9"/>
<rect x="791.26" y="690.30" width="4.99" height="558.70" fill="#5E4FA2"/>
<rect x="796.80" y="22.20" width="4.99" height="1226.80" fill="#EAF79F"/>
<rect x="796.80" y="36.40" width="4.99" height="1212.60" fill="#88D0A4"/>
<rect x="796.80" y="69.80" width="4.99" height="1179.20" fill="#55AFAD"/>
<rect x="796.80" y="193.00" width="4.99" height="1056.00" fill="#397FB9"/>
<rect x="796.80" y="517.10" width="4.99" height="731.90" fill="#5E4FA2"/>
<rect x="802.34" y="22.20" width="4.99" height="1226.80" fill="#397FB9"/>
<rect x="802.34" y="922.30" width="4.99" height="326.70" fill="#5E4FA2"/>
<rect x="807.89" y="22.20" width="4.99" height="1226.80" fill="#FDBF6F"/>
<rect x="807.89" y="28.40" width="4.99" height="1220.60" fill="#EAF79F"/>
<rect x="807.89" y="56.40" width="4.99" height="1192.60" fill="#88D0A4"/>
<rect x="807.89" y="230.40" width="4.99" height="1018.60" fill="#55AFAD"/>
<rect x="807.89" y="947.40" width="4.99" height="301.60" fill="#397FB9"/>
<rect x="807.89" y="1188.70" width="4.99" height="60.30" fill="#5E4FA2"/>
<rect x="813.43" y="22.20" width="4.99" height="1226.80" fill="#EA5D47"/>
<rect x="813.43" y="70.40" width="4.99" height="1178.60" fill="#EAF79F"/>
<rect x="813.43" y="1141.40" width="4.99" height="107.60" fill="#5E4FA2"/>
<rect x="818.97" y="22.20" width="4.99" height="1226.80" fill="#EAF79F"/>
<rect x="818.97" y="64.40" width="4.99" height="1184.60" fill="#BFE5A0"/>
<rect x="818.97" y="80.50" width="4.99" height="1168.50" fill="#397FB9"/>
<rect x="818.97" y="1010.00" width="4.99" height="239.00" fill="#5E4FA2"/>
<rect x="824.52" y="22.20" width="4.99" height="1226.80" fill="#EAF79F"/>
<rect x="824.52" y="59.10" width="4.99" height="1189.90" fill="#BFE5A0"/>
<rect x="824.52" y="71.10" width="4.99" height="1177.90" fill="#55AFAD"/>
<rect x="824.52" y="105.80" width="4.99" height="1143.20" fill="#397FB9"/>
<rect x="824.52" y="843.00" width="4.99" height="406.00" fill="#5E4FA2"/>
<rect x="830.06" y="22.20" width="4.99" height="1226.80" fill="#FDBF6F"/>
<rect x="830.06" y="31.00" width="4.99" height="1218.00" fill="#BFE5A0"/>
<rect x="830.06" y="235.80" width="4.99" height="1013.20" fill="#55AFAD"/>
<rect x="830.06" y="441.00" width="4.99" height="808.00" fill="#397FB9"/>
<rect x="830.06" y="1101.20" width="4.99" height="147.80" fill="#5E4FA2"/>
<rect x="835.60" y="22.20" width="4.99" height="1226.80" fill="#FDBF6F"/>
<rect x="835.60" y="146.60" width="4.99" height="1102.40" fill="#BFE5A0"/>
<rect x="835.60" y="157.90" width="4.99" height="1091.10" fill="#55AFAD"/>
<rect x="835.60" y="190.30" width="4.99" height="1058.70" fill="#397FB9"/>
<rect x="835.60" y="1056.20" width="4.99" height="192.80" fill="#5E4FA2"/>
<rect x="841.15" y="22.20" width="4.99" height="1226.80" fill="#EAF79F"/>
<rect x="841.15" y="56.40" width="4.99" height="1192.60" fill="#BFE5A0"/>
<rect x="841.15" y="72.40" width="4.99" height="1176.60" fill="#55AFAD"/>
<rect x="841.15" y="245.10" width="4.99" height="1003.90" fill="#397FB9"/>
<rect x="841.15" y="1056.20" width="4.99" height="192.80" fill="#5E4FA2"/>
<rect x="846.69" y="22.20" width="4.99" height="1226.80" fill="#EAF79F"/>
<rect x="846.69" y="401.80" width="4.99" height="847.20" fill="#397FB9"/>
<rect x="846.69" y="406.10" width="4.99" height="842.90" fill="#5E4FA2"/>
<rect x="852.23" y="22.20" width="4.99" height="1226.80" fill="#BFE5A0"/>
<rect x="852.23" y="37.70" width="4.99" height="1211.30" fill="#88D0A4"/>
<rect x="852.23" y="72.40" width="4.99" height="1176.60" fill="#55AFAD"/>
<rect x="852.23" y="105.80" width="4.99" height="1143.20" fill="#397FB9"/>
<rect x="852.23" y="821.30" width="4.99" height="427.70" fill="#5E4FA2"/>
<rect x="857.77" y="22.20" width="4.99" height="1226.80" fill="#BFE5A0"/>
<rect x="857.77" y="44.40" width="4.99" height="1204.60" fill="#88D0A4"/>
<rect x="857.77" y="67.10" width="4.99" height="1181.90" fill="#55AFAD"/>
<rect x="857.77" y="137.90" width="4.99" height="1111.10" fill="#397FB9"/>
<rect x="857.77" y="679.50" width="4.99" height="569.50" fill="#5E4FA2"/>
<rect x="863.32" y="22.20" width="4.99" height="1226.80" fill="#EA5D47"/>
<rect x="863.32" y="132.60" width="4.99" height="1116.40" fill="#EAF79F"/>
<rect x="863.32" y="175.30" width="4.99" height="1073.70" fill="#55AFAD"/>
<rect x="863.32" y="271.80" width="4.99" height="977.20" fill="#397FB9"/>
<rect x="863.32" y="926.00" width="4.99" height="323.00" fill="#5E4FA2"/>
<rect x="868.86" y="22.20" width="4.99" height="1226.80" fill="#55AFAD"/>
<rect x="868.86" y="112.50" width="4.99" height="1136.50" fill="#397FB9"/>
<rect x="868.86" y="1200.60" width="4.99" height="48.40" fill="#5E4FA2"/>
<rect x="874.40" y="22.20" width="4.99" height="1226.80" fill="#EAF79F"/>
<rect x="874.40" y="124.50" width="4.99" height="1124.50" fill="#BFE5A0"/>
<rect x="874.40" y="135.20" width="4.99" height="1113.80" fill="#55AFAD"/>
<rect x="874.40" y="210.40" width="4.99" height="1038.60" fill="#397FB9"/>
<rect x="874.40" y="585.60" width="4.99" height="663.40" fill="#5E4FA2"/>
<rect x="879.95" y="22.20" width="4.99" height="1226.80" fill="#BFE5A0"/>
<rect x="879.95" y="1083.40" width="4.99" height="165.60" fill="#55AFAD"/>
<rect x="879.95" y="1092.90" width="4.99" height="156.10" fill="#397FB9"/>
<rect x="879.95" y="1226.60" width="4.99" height="22.40" fill="#5E4FA2"/>
<rect x="885.49" y="22.20" width="4.99" height="1226.80" fill="#EAF79F"/>
<rect x="885.49" y="401.80" width="4.99" height="847.20" fill="#BFE5A0"/>
<rect x="885.49" y="945.00" width="4.99" height="304.00" fill="#397FB9"/>
<rect x="885.49" y="1245.00" width="4.99" height="4.00" fill="#5E4FA2"/>
<rect x="891.03" y="22.20" width="4.99" height="1226.80" fill="#FDBF6F"/>
<rect x="891.03" y="24.30" width="4.99" height="1224.70" fill="#EAF79F"/>
<rect x="891.03" y="156.60" width="4.99" height="1092.40" fill="#BFE5A0"/>
<rect x="891.03" y="1032.60" width="4.99" height="216.40" fill="#55AFAD"/>
<rect x="891.03" y="1039.70" width="4.99" height="209.30" fill="#397FB9"/>
<rect x="891.03" y="1236.00" width="4.99" height="13.00" fill="#5E4FA2"/>
<rect x="896.58" y="22.20" width="4.99" height="1226.80" fill="#BFE5A0"/>
<rect x="896.58" y="1205.30" width="4.99" height="43.70" fill="#397FB9"/>
<rect x="896.58" y="1234.90" width="4.99" height="14.10" fill="#5E4FA2"/>
<rect x="973.10" y="22.20" width="12.53" height="1226.80" fill="#EAF79F"/>
<rect x="973.10" y="78.60" width="12.53" height="1170.40" fill="#88D0A4"/>
<rect x="973.10" y="207.10" width="12.53" height="1041.90" fill="#397FB9"/>
<rect x="973.10" y="265.50" width="12.53" height="983.50" fill="#5E4FA2"/>
<rect x="987.03" y="22.20" width="12.53" height="1226.80" fill="#FFFFBF"/>
<rect x="987.03" y="86.40" width="12.53" height="1162.60" fill="#88D0A4"/>
<rect x="987.03" y="109.70" width="12.53" height="1139.30" fill="#397FB9"/>
<rect x="987.03" y="216.10" width="12.53" height="1032.90" fill="#5E4FA2"/>
<rect x="1000.95" y="22.20" width="12.53" height="1226.80" fill="#F88E52"/>
<rect x="1000.95" y="85.10" width="12.53" height="1163.90" fill="#EAF79F"/>
<rect x="1000.95" y="262.90" width="12.53" height="986.10" fill="#55AFAD"/>
<rect x="1000.95" y="304.40" width="12.53" height="944.60" fill="#397FB9"/>
<rect x="1000.95" y="811.30" width="12.53" height="437.70" fill="#5E4FA2"/>
<rect x="1014.88" y="22.20" width="12.53" height="1226.80" fill="#EA5D47"/>
<rect x="1014.88" y="24.90" width="12.53" height="1224.10" fill="#EAF79F"/>
<rect x="1014.88" y="74.70" width="12.53" height="1174.30" fill="#55AFAD"/>
<rect x="1014.88" y="77.30" width="12.53" height="1171.70" fill="#397FB9"/>
<rect x="1014.88" y="129.20" width="12.53" height="1119.80" fill="#5E4FA2"/>
<rect x="1028.80" y="22.20" width="12.53" height="1226.80" fill="#EA5D47"/>
<rect x="1028.80" y="25.40" width="12.53" height="1223.60" fill="#EAF79F"/>
<rect x="1028.80" y="114.90" width="12.53" height="1134.10" fill="#55AFAD"/>
<rect x="1028.80" y="118.80" width="12.53" height="1130.20" fill="#397FB9"/>
<rect x="1028.80" y="570.00" width="12.53" height="679.00" fill="#5E4FA2"/>
<rect x="1042.73" y="22.20" width="12.53" height="1226.80" fill="#EAF79F"/>
<rect x="1042.73" y="43.50" width="12.53" height="1205.50" fill="#397FB9"/>
<rect x="1042.73" y="235.60" width="12.53" height="1013.40" fill="#5E4FA2"/>
<rect x="1056.66" y="22.20" width="12.53" height="1226.80" fill="#EA5D47"/>
<rect x="1056.66" y="30.60" width="12.53" height="1218.40" fill="#EAF79F"/>
<rect x="1056.66" y="41.00" width="12.53" height="1208.00" fill="#88D0A4"/>
<rect x="1056.66" y="68.20" width="12.53" height="1180.80" fill="#397FB9"/>
<rect x="1056.66" y="668.30" width="12.53" height="580.70" fill="#5E4FA2"/>
<rect x="1070.58" y="22.20" width="12.53" height="1226.80" fill="#EAF79F"/>
<rect x="1070.58" y="47.40" width="12.53" height="1201.60" fill="#55AFAD"/>
<rect x="1070.58" y="117.50" width="12.53" height="1131.50" fill="#397FB9"/>
<rect x="1070.58" y="585.80" width="12.53" height="663.20" fill="#5E4FA2"/>
<rect x="1084.51" y="22.20" width="12.53" height="1226.80" fill="#EA5D47"/>
<rect x="1084.51" y="24.90" width="12.53" height="1224.10" fill="#FFFFBF"/>
<rect x="1084.51" y="44.80" width="12.53" height="1204.20" fill="#EAF79F"/>
<rect x="1084.51" y="61.70" width="12.53" height="1187.30" fill="#BFE5A0"/>
<rect x="1084.51" y="87.70" width="12.53" height="1161.30" fill="#88D0A4"/>
<rect x="1084.51" y="387.40" width="12.53" height="861.60" fill="#397FB9"/>
<rect x="1084.51" y="578.80" width="12.53" height="670.20" fill="#5E4FA2"/>
<rect x="1098.43" y="22.20" width="12.53" height="1226.80" fill="#88D0A4"/>
<rect x="1098.43" y="53.90" width="12.53" height="1195.10" fill="#55AFAD"/>
<rect x="1098.43" y="144.80" width="12.53" height="1104.20" fill="#397FB9"/>
<rect x="1098.43" y="556.00" width="12.53" height="693.00" fill="#5E4FA2"/>
<rect x="1112.36" y="22.20" width="12.53" height="1226.80" fill="#EAF79F"/>
<rect x="1112.36" y="33.20" width="12.53" height="1215.80" fill="#BFE5A0"/>
<rect x="1112.36" y="37.10" width="12.53" height="1211.90" fill="#55AFAD"/>
<rect x="1112.36" y="43.50" width="12.53" height="1205.50" fill="#397FB9"/>
<rect x="1112.36" y="208.40" width="12.53" height="1040.60" fill="#5E4FA2"/>
<rect x="1126.29" y="22.20" width="12.53" height="1226.80" fill="#EA5D47"/>
<rect x="1126.29" y="42.30" width="12.53" height="1206.70" fill="#FFFFBF"/>
<rect x="1126.29" y="46.10" width="12.53" height="1202.90" fill="#BFE5A0"/>
<rect x="1126.29" y="60.40" width="12.53" height="1188.60" fill="#55AFAD"/>
<rect x="1126.29" y="64.30" width="12.53" height="1184.70" fill="#397FB9"/>
<rect x="1126.29" y="417.20" width="12.53" height="831.80" fill="#5E4FA2"/>
<rect x="1140.21" y="22.20" width="12.53" height="1226.80" fill="#397FB9"/>
<rect x="1140.21" y="82.50" width="12.53" height="1166.50" fill="#5E4FA2"/>
<rect x="1154.14" y="22.20" width="12.53" height="1226.80" fill="#EA5D47"/>
<rect x="1154.14" y="26.70" width="12.53" height="1222.30" fill="#EAF79F"/>
<rect x="1154.14" y="39.70" width="12.53" height="1209.30" fill="#55AFAD"/>
<rect x="1154.14" y="94.20" width="12.53" height="1154.80" fill="#397FB9"/>
<rect x="1154.14" y="157.70" width="12.53" height="1091.30" fill="#5E4FA2"/>
<rect x="1168.06" y="22.20" width="12.53" height="1226.80" fill="#EAF79F"/>
<rect x="1168.06" y="201.90" width="12.53" height="1047.10" fill="#397FB9"/>
<rect x="1168.06" y="294.00" width="12.53" height="955.00" fill="#5E4FA2"/>
<rect x="1181.99" y="22.20" width="12.53" height="1226.80" fill="#EAF79F"/>
<rect x="1181.99" y="50.00" width="12.53" height="1199.00" fill="#88D0A4"/>
<rect x="1181.99" y="69.50" width="12.53" height="1179.50" fill="#55AFAD"/>
<rect x="1181.99" y="78.60" width="12.53" height="1170.40" fill="#397FB9"/>
<rect x="1181.99" y="282.30" width="12.53" height="966.70" fill="#5E4FA2"/>
<rect x="1195.92" y="22.20" width="12.53" height="1226.80" fill="#EAF79F"/>
<rect x="1195.92" y="59.10" width="12.53" height="1189.90" fill="#88D0A4"/>
<rect x="1195.92" y="66.90" width="12.53" height="1182.10" fill="#55AFAD"/>
<rect x="1195.92" y="156.40" width="12.53" height="1092.60" fill="#397FB9"/>
<rect x="1195.92" y="195.40" width="12.53" height="1053.60" fill="#5E4FA2"/>
<rect x="1209.84" y="22.20" width="12.53" height="1226.80" fill="#EAF79F"/>
<rect x="1209.84" y="79.90" width="12.53" height="1169.10" fill="#BFE5A0"/>
<rect x="1209.84" y="107.10" width="12.53" height="1141.90" fill="#55AFAD"/>
<rect x="1209.84" y="126.60" width="12.53" height="1122.40" fill="#397FB9"/>
<rect x="1209.84" y="561.20" width="12.53" height="687.80" fill="#5E4FA2"/>
<rect x="1223.77" y="22.20" width="12.53" height="1226.80" fill="#F88E52"/>
<rect x="1223.77" y="47.40" width="12.53" height="1201.60" fill="#FEE594"/>
<rect x="1223.77" y="66.90" width="12.53" height="1182.10" fill="#EAF79F"/>
<rect x="1223.77" y="98.00" width="12.53" height="1151.00" fill="#397FB9"/>
<rect x="1223.77" y="443.60" width="12.53" height="805.40" fill="#5E4FA2"/>
<rect x="1237.69" y="22.20" width="12.53" height="1226.80" fill="#FEE594"/>
<rect x="1237.69" y="142.20" width="12.53" height="1106.80" fill="#BFE5A0"/>
<rect x="1237.69" y="225.20" width="12.53" height="1023.80" fill="#397FB9"/>
<rect x="1237.69" y="419.00" width="12.53" height="830.00" fill="#5E4FA2"/>
<rect x="1251.62" y="22.20" width="12.53" height="1226.80" fill="#EA5D47"/>
<rect x="1251.62" y="42.30" width="12.53" height="1206.70" fill="#BFE5A0"/>
<rect x="1251.62" y="160.30" width="12.53" height="1088.70" fill="#55AFAD"/>
<rect x="1251.62" y="168.10" width="12.53" height="1080.90" fill="#397FB9"/>
<rect x="1251.62" y="256.40" width="12.53" height="992.60" fill="#5E4FA2"/>
<rect x="1265.55" y="22.20" width="12.53" height="1226.80" fill="#EAF79F"/>
<rect x="1265.55" y="77.30" width="12.53" height="1171.70" fill="#BFE5A0"/>
<rect x="1265.55" y="85.10" width="12.53" height="1163.90" fill="#88D0A4"/>
<rect x="1265.55" y="100.60" width="12.53" height="1148.40" fill="#397FB9"/>
<rect x="1265.55" y="350.50" width="12.53" height="898.50" fill="#5E4FA2"/>
<rect x="1279.47" y="22.20" width="12.53" height="1226.80" fill="#EAF79F"/>
<rect x="1279.47" y="60.40" width="12.53" height="1188.60" fill="#55AFAD"/>
<rect x="1279.47" y="63.00" width="12.53" height="1186.00" fill="#397FB9"/>
<rect x="1279.47" y="297.90" width="12.53" height="951.10" fill="#5E4FA2"/>
<rect x="1293.40" y="22.20" width="12.53" height="1226.80" fill="#FEE594"/>
<rect x="1293.40" y="76.00" width="12.53" height="1173.00" fill="#BFE5A0"/>
<rect x="1293.40" y="108.40" width="12.53" height="1140.60" fill="#88D0A4"/>
<rect x="1293.40" y="116.20" width="12.53" height="1132.80" fill="#55AFAD"/>
<rect x="1293.40" y="130.50" width="12.53" height="1118.50" fill="#397FB9"/>
<rect x="1293.40" y="548.90" width="12.53" height="700.10" fill="#5E4FA2"/>
<rect x="1307.32" y="22.20" width="12.53" height="1226.80" fill="#FFFFBF"/>
<rect x="1307.32" y="29.30" width="12.53" height="1219.70" fill="#EAF79F"/>
<rect x="1307.32" y="66.90" width="12.53" height="1182.10" fill="#BFE5A0"/>
<rect x="1307.32" y="79.90" width="12.53" height="1169.10" fill="#55AFAD"/>
<rect x="1307.32" y="86.40" width="12.53" height="1162.60" fill="#397FB9"/>
<rect x="1307.32" y="162.90" width="12.53" height="1086.10" fill="#5E4FA2"/>
<rect x="1321.25" y="22.20" width="12.53" height="1226.80" fill="#FDBF6F"/>
<rect x="1321.25" y="39.70" width="12.53" height="1209.30" fill="#BFE5A0"/>
<rect x="1321.25" y="51.30" width="12.53" height="1197.70" fill="#55AFAD"/>
<rect x="1321.25" y="55.20" width="12.53" height="1193.80" fill="#5E4FA2"/>
<rect x="1335.18" y="22.20" width="12.53" height="1226.80" fill="#F88E52"/>
<rect x="1335.18" y="42.30" width="12.53" height="1206.70" fill="#FDBF6F"/>
<rect x="1335.18" y="216.10" width="12.53" height="1032.90" fill="#EAF79F"/>
<rect x="1335.18" y="317.40" width="12.53" height="931.60" fill="#BFE5A0"/>
<rect x="1335.18" y="433.00" width="12.53" height="816.00" fill="#55AFAD"/>
<rect x="1335.18" y="499.80" width="12.53" height="749.20" fill="#397FB9"/>
<rect x="1335.18" y="605.10" width="12.53" height="643.90" fill="#5E4FA2"/>
<rect x="1349.10" y="22.20" width="12.53" height="1226.80" fill="#F88E52"/>
<rect x="1349.10" y="53.90" width="12.53" height="1195.10" fill="#FDBF6F"/>
<rect x="1349.10" y="76.00" width="12.53" height="1173.00" fill="#EAF79F"/>
<rect x="1349.10" y="126.60" width="12.53" height="1122.40" fill="#BFE5A0"/>
<rect x="1349.10" y="169.40" width="12.53" height="1079.60" fill="#88D0A4"/>
<rect x="1349.10" y="201.90" width="12.53" height="1047.10" fill="#55AFAD"/>
<rect x="1349.10" y="242.10" width="12.53" height="1006.90" fill="#397FB9"/>
<rect x="1349.10" y="342.00" width="12.53" height="907.00" fill="#5E4FA2"/>
<rect x="1363.03" y="22.20" width="12.53" height="1226.80" fill="#F88E52"/>
<rect x="1363.03" y="30.60" width="12.53" height="1218.40" fill="#FDBF6F"/>
<rect x="1363.03" y="59.10" width="12.53" height="1189.90" fill="#FEE594"/>
<rect x="1363.03" y="89.00" width="12.53" height="1160.00" fill="#FFFFBF"/>
<rect x="1363.03" y="92.90" width="12.53" height="1156.10" fill="#EAF79F"/>
<rect x="1363.03" y="134.40" width="12.53" height="1114.60" fill="#BFE5A0"/>
<rect x="1363.03" y="238.20" width="12.53" height="1010.80" fill="#88D0A4"/>
<rect x="1363.03" y="316.10" width="12.53" height="932.90" fill="#55AFAD"/>
<rect x="1363.03" y="533.10" width="12.53" height="715.90" fill="#397FB9"/>
<rect x="1363.03" y="722.70" width="12.53" height="526.30" fill="#5E4FA2"/>
<rect x="1376.95" y="22.20" width="12.53" height="1226.80" fill="#FDBF6F"/>
<rect x="1376.95" y="146.10" width="12.53" height="1102.90" fill="#FEE594"/>
<rect x="1376.95" y="447.10" width="12.53" height="801.90" fill="#EAF79F"/>
<rect x="1376.95" y="601.60" width="12.53" height="647.40" fill="#397FB9"/>
<rect x="1376.95" y="793.00" width="12.53" height="456.00" fill="#5E4FA2"/>
<rect x="1390.88" y="22.20" width="12.53" height="1226.80" fill="#F88E52"/>
<rect x="1390.88" y="65.60" width="12.53" height="1183.40" fill="#FDBF6F"/>
<rect x="1390.88" y="150.00" width="12.53" height="1099.00" fill="#FEE594"/>
<rect x="1390.88" y="259.00" width="12.53" height="990.00" fill="#EAF79F"/>
<rect x="1390.88" y="262.90" width="12.53" height="986.10" fill="#BFE5A0"/>
<rect x="1390.88" y="375.10" width="12.53" height="873.90" fill="#88D0A4"/>
<rect x="1390.88" y="401.40" width="12.53" height="847.60" fill="#55AFAD"/>
<rect x="1390.88" y="434.80" width="12.53" height="814.20" fill="#397FB9"/>
<rect x="1390.88" y="548.90" width="12.53" height="700.10" fill="#5E4FA2"/>
<rect x="1404.81" y="22.20" width="12.53" height="1226.80" fill="#EA5D47"/>
<rect x="1404.81" y="29.30" width="12.53" height="1219.70" fill="#EAF79F"/>
<rect x="1404.81" y="76.00" width="12.53" height="1173.00" fill="#397FB9"/>
<rect x="1404.81" y="239.50" width="12.53" height="1009.50" fill="#5E4FA2"/>
<rect x="1418.73" y="22.20" width="12.53" height="1226.80" fill="#F88E52"/>
<rect x="1418.73" y="38.40" width="12.53" height="1210.60" fill="#FDBF6F"/>
<rect x="1418.73" y="140.90" width="12.53" height="1108.10" fill="#EAF79F"/>
<rect x="1418.73" y="183.70" width="12.53" height="1065.30" fill="#BFE5A0"/>
<rect x="1418.73" y="422.50" width="12.53" height="826.50" fill="#88D0A4"/>
<rect x="1418.73" y="427.80" width="12.53" height="821.20" fill="#55AFAD"/>
<rect x="1418.73" y="482.20" width="12.53" height="766.80" fill="#397FB9"/>
<rect x="1418.73" y="1052.70" width="12.53" height="196.30" fill="#5E4FA2"/>
<rect x="1432.66" y="22.20" width="12.53" height="1226.80" fill="#EA5D47"/>
<rect x="1432.66" y="31.90" width="12.53" height="1217.10" fill="#F88E52"/>
<rect x="1432.66" y="103.20" width="12.53" height="1145.80" fill="#FDBF6F"/>
<rect x="1432.66" y="113.60" width="12.53" height="1135.40" fill="#FFFFBF"/>
<rect x="1432.66" y="121.40" width="12.53" height="1127.60" fill="#EAF79F"/>
<rect x="1432.66" y="142.20" width="12.53" height="1106.80" fill="#BFE5A0"/>
<rect x="1432.66" y="160.30" width="12.53" height="1088.70" fill="#88D0A4"/>
<rect x="1432.66" y="204.50" width="12.53" height="1044.50" fill="#55AFAD"/>
<rect x="1432.66" y="240.80" width="12.53" height="1008.20" fill="#397FB9"/>
<rect x="1432.66" y="364.60" width="12.53" height="884.40" fill="#5E4FA2"/>
<rect x="1446.58" y="22.20" width="12.53" height="1226.80" fill="#FFFFBF"/>
<rect x="1446.58" y="35.80" width="12.53" height="1213.20" fill="#EAF79F"/>
<rect x="1446.58" y="116.20" width="12.53" height="1132.80" fill="#397FB9"/>
<rect x="1446.58" y="205.80" width="12.53" height="1043.20" fill="#5E4FA2"/>
<rect x="1460.51" y="22.20" width="12.53" height="1226.80" fill="#EA5D47"/>
<rect x="1460.51" y="30.60" width="12.53" height="1218.40" fill="#FDBF6F"/>
<rect x="1460.51" y="41.00" width="12.53" height="1208.00" fill="#EAF79F"/>
<rect x="1460.51" y="89.00" width="12.53" height="1160.00" fill="#BFE5A0"/>
<rect x="1460.51" y="105.80" width="12.53" height="1143.20" fill="#397FB9"/>
<rect x="1460.51" y="771.90" width="12.53" height="477.10" fill="#5E4FA2"/>
<rect x="1474.44" y="22.20" width="12.53" height="1226.80" fill="#F88E52"/>
<rect x="1474.44" y="31.90" width="12.53" height="1217.10" fill="#FEE594"/>
<rect x="1474.44" y="59.10" width="12.53" height="1189.90" fill="#FFFFBF"/>
<rect x="1474.44" y="66.90" width="12.53" height="1182.10" fill="#EAF79F"/>
<rect x="1474.44" y="105.80" width="12.53" height="1143.20" fill="#BFE5A0"/>
<rect x="1474.44" y="113.60" width="12.53" height="1135.40" fill="#88D0A4"/>
<rect x="1474.44" y="196.70" width="12.53" height="1052.30" fill="#55AFAD"/>
<rect x="1474.44" y="317.40" width="12.53" height="931.60" fill="#397FB9"/>
<rect x="1474.44" y="664.80" width="12.53" height="584.20" fill="#5E4FA2"/>
<rect x="1488.36" y="22.20" width="12.53" height="1226.80" fill="#FEE594"/>
<rect x="1488.36" y="33.20" width="12.53" height="1215.80" fill="#FFFFBF"/>
<rect x="1488.36" y="60.40" width="12.53" height="1188.60" fill="#BFE5A0"/>
<rect x="1488.36" y="74.70" width="12.53" height="1174.30" fill="#88D0A4"/>
<rect x="1488.36" y="120.10" width="12.53" height="1128.90" fill="#55AFAD"/>
<rect x="1488.36" y="139.60" width="12.53" height="1109.40" fill="#397FB9"/>
<rect x="1488.36" y="450.60" width="12.53" height="798.40" fill="#5E4FA2"/>
<rect x="1502.29" y="22.20" width="12.53" height="1226.80" fill="#FDBF6F"/>
<rect x="1502.29" y="33.20" width="12.53" height="1215.80" fill="#FEE594"/>
<rect x="1502.29" y="52.60" width="12.53" height="1196.40" fill="#EAF79F"/>
<rect x="1502.29" y="116.20" width="12.53" height="1132.80" fill="#BFE5A0"/>
<rect x="1502.29" y="160.30" width="12.53" height="1088.70" fill="#88D0A4"/>
<rect x="1502.29" y="194.10" width="12.53" height="1054.90" fill="#55AFAD"/>
<rect x="1502.29" y="214.80" width="12.53" height="1034.20" fill="#397FB9"/>
<rect x="1502.29" y="712.20" width="12.53" height="536.80" fill="#5E4FA2"/>
<rect x="1516.21" y="22.20" width="12.53" height="1226.80" fill="#FDBF6F"/>
<rect x="1516.21" y="35.80" width="12.53" height="1213.20" fill="#FFFFBF"/>
<rect x="1516.21" y="66.90" width="12.53" height="1182.10" fill="#EAF79F"/>
<rect x="1516.21" y="77.30" width="12.53" height="1171.70" fill="#BFE5A0"/>
<rect x="1516.21" y="91.60" width="12.53" height="1157.40" fill="#397FB9"/>
<rect x="1516.21" y="347.20" width="12.53" height="901.80" fill="#5E4FA2"/>
<rect x="1530.14" y="22.20" width="12.53" height="1226.80" fill="#FEE594"/>
<rect x="1530.14" y="64.30" width="12.53" height="1184.70" fill="#EAF79F"/>
<rect x="1530.14" y="68.20" width="12.53" height="1180.80" fill="#BFE5A0"/>
<rect x="1530.14" y="427.80" width="12.53" height="821.20" fill="#88D0A4"/>
<rect x="1530.14" y="471.70" width="12.53" height="777.30" fill="#55AFAD"/>
<rect x="1530.14" y="517.30" width="12.53" height="731.70" fill="#397FB9"/>
<rect x="1530.14" y="873.40" width="12.53" height="375.60" fill="#5E4FA2"/>
<rect x="1544.07" y="22.20" width="12.53" height="1226.80" fill="#EA5D47"/>
<rect x="1544.07" y="27.70" width="12.53" height="1221.30" fill="#FEE594"/>
<rect x="1544.07" y="33.20" width="12.53" height="1215.80" fill="#EAF79F"/>
<rect x="1544.07" y="46.10" width="12.53" height="1202.90" fill="#88D0A4"/>
<rect x="1544.07" y="60.40" width="12.53" height="1188.60" fill="#55AFAD"/>
<rect x="1544.07" y="73.40" width="12.53" height="1175.60" fill="#397FB9"/>
<rect x="1544.07" y="933.80" width="12.53" height="315.20" fill="#5E4FA2"/>
<rect x="1557.99" y="22.20" width="12.53" height="1226.80" fill="#EA5D47"/>
<rect x="1557.99" y="30.60" width="12.53" height="1218.40" fill="#FEE594"/>
<rect x="1557.99" y="46.10" width="12.53" height="1202.90" fill="#EAF79F"/>
<rect x="1557.99" y="178.50" width="12.53" height="1070.50" fill="#88D0A4"/>
<rect x="1557.99" y="214.80" width="12.53" height="1034.20" fill="#55AFAD"/>
<rect x="1557.99" y="249.90" width="12.53" height="999.10" fill="#397FB9"/>
<rect x="1557.99" y="399.70" width="12.53" height="849.30" fill="#5E4FA2"/>
<rect x="1571.92" y="22.20" width="12.53" height="1226.80" fill="#FDBF6F"/>
<rect x="1571.92" y="31.90" width="12.53" height="1217.10" fill="#EAF79F"/>
<rect x="1571.92" y="72.10" width="12.53" height="1176.90" fill="#BFE5A0"/>
<rect x="1571.92" y="103.20" width="12.53" height="1145.80" fill="#88D0A4"/>
<rect x="1571.92" y="316.10" width="12.53" height="932.90" fill="#55AFAD"/>
<rect x="1571.92" y="475.20" width="12.53" height="773.80" fill="#397FB9"/>
<rect x="1571.92" y="1070.40" width="12.53" height="178.60" fill="#5E4FA2"/>
<rect x="1585.84" y="22.20" width="12.53" height="1226.80" fill="#EA5D47"/>
<rect x="1585.84" y="26.70" width="12.53" height="1222.30" fill="#FDBF6F"/>
<rect x="1585.84" y="30.60" width="12.53" height="1218.40" fill="#FFFFBF"/>
<rect x="1585.84" y="121.40" width="12.53" height="1127.60" fill="#BFE5A0"/>
<rect x="1585.84" y="130.50" width="12.53" height="1118.50" fill="#397FB9"/>
<rect x="1585.84" y="501.50" width="12.53" height="747.50" fill="#5E4FA2"/>
<rect x="1599.77" y="22.20" width="12.53" height="1226.80" fill="#FDBF6F"/>
<rect x="1599.77" y="33.20" width="12.53" height="1215.80" fill="#FFFFBF"/>
<rect x="1599.77" y="53.90" width="12.53" height="1195.10" fill="#EAF79F"/>
<rect x="1599.77" y="61.70" width="12.53" height="1187.30" fill="#88D0A4"/>
<rect x="1599.77" y="73.40" width="12.53" height="1175.60" fill="#397FB9"/>
<rect x="1599.77" y="429.50" width="12.53" height="819.50" fill="#5E4FA2"/>
<rect x="1613.70" y="22.20" width="12.53" height="1226.80" fill="#EA5D47"/>
<rect x="1613.70" y="46.10" width="12.53" height="1202.90" fill="#FEE594"/>
<rect x="1613.70" y="186.30" width="12.53" height="1062.70" fill="#EAF79F"/>
<rect x="1613.70" y="208.40" width="12.53" height="1040.60" fill="#BFE5A0"/>
<rect x="1613.70" y="238.40" width="12.53" height="1010.60" fill="#88D0A4"/>
<rect x="1613.70" y="408.50" width="12.53" height="840.50" fill="#55AFAD"/>
<rect x="1613.70" y="701.70" width="12.53" height="547.30" fill="#397FB9"/>
<rect x="1613.70" y="1006.50" width="12.53" height="242.50" fill="#5E4FA2"/>
<rect x="1627.62" y="22.20" width="12.53" height="1226.80" fill="#F88E52"/>
<rect x="1627.62" y="29.30" width="12.53" height="1219.70" fill="#FDBF6F"/>
<rect x="1627.62" y="38.40" width="12.53" height="1210.60" fill="#BFE5A0"/>
<rect x="1627.62" y="345.90" width="12.53" height="903.10" fill="#88D0A4"/>
<rect x="1627.62" y="394.40" width="12.53" height="854.60" fill="#55AFAD"/>
<rect x="1627.62" y="399.70" width="12.53" height="849.30" fill="#397FB9"/>
<rect x="1627.62" y="891.20" width="12.53" height="357.80" fill="#5E4FA2"/>
<rect x="1641.55" y="22.20" width="12.53" height="1226.80" fill="#EA5D47"/>
<rect x="1641.55" y="34.50" width="12.53" height="1214.50" fill="#F88E52"/>
<rect x="1641.55" y="55.20" width="12.53" height="1193.80" fill="#FEE594"/>
<rect x="1641.55" y="87.70" width="12.53" height="1161.30" fill="#EAF79F"/>
<rect x="1641.55" y="91.60" width="12.53" height="1157.40" fill="#88D0A4"/>
<rect x="1641.55" y="292.70" width="12.53" height="956.30" fill="#55AFAD"/>
<rect x="1641.55" y="362.80" width="12.53" height="886.20" fill="#397FB9"/>
<rect x="1641.55" y="964.00" width="12.53" height="285.00" fill="#5E4FA2"/>
<rect x="1655.47" y="22.20" width="12.53" height="1226.80" fill="#FEE594"/>
<rect x="1655.47" y="56.50" width="12.53" height="1192.50" fill="#FFFFBF"/>
<rect x="1655.47" y="63.00" width="12.53" height="1186.00" fill="#88D0A4"/>
<rect x="1655.47" y="262.90" width="12.53" height="986.10" fill="#55AFAD"/>
<rect x="1655.47" y="319.90" width="12.53" height="929.10" fill="#397FB9"/>
<rect x="1655.47" y="589.30" width="12.53" height="659.70" fill="#5E4FA2"/>
<rect x="1669.40" y="22.20" width="12.53" height="1226.80" fill="#EA5D47"/>
<rect x="1669.40" y="34.50" width="12.53" height="1214.50" fill="#FFFFBF"/>
<rect x="1669.40" y="79.90" width="12.53" height="1169.10" fill="#EAF79F"/>
<rect x="1669.40" y="98.00" width="12.53" height="1151.00" fill="#BFE5A0"/>
<rect x="1669.40" y="101.80" width="12.53" height="1147.20" fill="#88D0A4"/>
<rect x="1669.40" y="144.80" width="12.53" height="1104.20" fill="#397FB9"/>
<rect x="1669.40" y="831.90" width="12.53" height="417.10" fill="#5E4FA2"/>
<rect x="1683.33" y="22.20" width="12.53" height="1226.80" fill="#F88E52"/>
<rect x="1683.33" y="39.70" width="12.53" height="1209.30" fill="#EAF79F"/>
<rect x="1683.33" y="56.50" width="12.53" height="1192.50" fill="#55AFAD"/>
<rect x="1683.33" y="174.60" width="12.53" height="1074.40" fill="#397FB9"/>
<rect x="1683.33" y="680.60" width="12.53" height="568.40" fill="#5E4FA2"/>
<rect x="1697.25" y="22.20" width="12.53" height="1226.80" fill="#FFFFBF"/>
<rect x="1697.25" y="87.70" width="12.53" height="1161.30" fill="#55AFAD"/>
<rect x="1697.25" y="104.50" width="12.53" height="1144.50" fill="#397FB9"/>
<rect x="1697.25" y="336.80" width="12.53" height="912.20" fill="#5E4FA2"/>
<rect x="1711.18" y="22.20" width="12.53" height="1226.80" fill="#CC344D"/>
<rect x="1711.18" y="25.40" width="12.53" height="1223.60" fill="#FFFFBF"/>
<rect x="1711.18" y="28.40" width="12.53" height="1220.60" fill="#397FB9"/>
<rect x="1711.18" y="570.00" width="12.53" height="679.00" fill="#5E4FA2"/>
<rect x="1725.10" y="22.20" width="12.53" height="1226.80" fill="#EA5D47"/>
<rect x="1725.10" y="79.90" width="12.53" height="1169.10" fill="#F88E52"/>
<rect x="1725.10" y="98.00" width="12.53" height="1151.00" fill="#FFFFBF"/>
<rect x="1725.10" y="124.00" width="12.53" height="1125.00" fill="#EAF79F"/>
<rect x="1725.10" y="227.80" width="12.53" height="1021.20" fill="#BFE5A0"/>
<rect x="1725.10" y="239.50" width="12.53" height="1009.50" fill="#55AFAD"/>
<rect x="1725.10" y="480.40" width="12.53" height="768.60" fill="#397FB9"/>
<rect x="1725.10" y="893.00" width="12.53" height="356.00" fill="#5E4FA2"/>
<rect x="1739.03" y="22.20" width="12.53" height="1226.80" fill="#EA5D47"/>
<rect x="1739.03" y="35.80" width="12.53" height="1213.20" fill="#EAF79F"/>
<rect x="1739.03" y="83.80" width="12.53" height="1165.20" fill="#BFE5A0"/>
<rect x="1739.03" y="92.90" width="12.53" height="1156.10" fill="#88D0A4"/>
<rect x="1739.03" y="266.80" width="12.53" height="982.20" fill="#55AFAD"/>
<rect x="1739.03" y="355.80" width="12.53" height="893.20" fill="#397FB9"/>
<rect x="1739.03" y="742.00" width="12.53" height="507.00" fill="#5E4FA2"/>
<rect x="1752.96" y="22.20" width="12.53" height="1226.80" fill="#FDBF6F"/>
<rect x="1752.96" y="50.00" width="12.53" height="1199.00" fill="#EAF79F"/>
<rect x="1752.96" y="74.70" width="12.53" height="1174.30" fill="#BFE5A0"/>
<rect x="1752.96" y="83.80" width="12.53" height="1165.20" fill="#88D0A4"/>
<rect x="1752.96" y="98.00" width="12.53" height="1151.00" fill="#55AFAD"/>
<rect x="1752.96" y="357.60" width="12.53" height="891.40" fill="#397FB9"/>
<rect x="1752.96" y="965.70" width="12.53" height="283.30" fill="#5E4FA2"/>
<rect x="1766.88" y="22.20" width="12.53" height="1226.80" fill="#EAF79F"/>
<rect x="1766.88" y="153.90" width="12.53" height="1095.10" fill="#55AFAD"/>
<rect x="1766.88" y="213.50" width="12.53" height="1035.50" fill="#397FB9"/>
<rect x="1766.88" y="613.90" width="12.53" height="635.10" fill="#5E4FA2"/>
<rect x="85.0" y="21.50" width="6.8" height="2.2" fill="#222"/>
<text transform="translate(79.9,30.20) scale(1,1.035)" class="tk">1.00</text>
<rect x="964.2" y="21.50" width="6.8" height="2.2" fill="#222"/>
<text transform="translate(959.3,30.20) scale(1,1.035)" class="tk">1.00</text>
<rect x="85.0" y="328.20" width="6.8" height="2.2" fill="#222"/>
<text transform="translate(79.9,336.90) scale(1,1.035)" class="tk">0.75</text>
<rect x="964.2" y="328.20" width="6.8" height="2.2" fill="#222"/>
<text transform="translate(959.3,336.90) scale(1,1.035)" class="tk">0.75</text>
<rect x="85.0" y="634.90" width="6.8" height="2.2" fill="#222"/>
<text transform="translate(79.9,643.60) scale(1,1.035)" class="tk">0.50</text>
<rect x="964.2" y="634.90" width="6.8" height="2.2" fill="#222"/>
<text transform="translate(959.3,643.60) scale(1,1.035)" class="tk">0.50</text>
<rect x="85.0" y="941.60" width="6.8" height="2.2" fill="#222"/>
<text transform="translate(79.9,950.30) scale(1,1.035)" class="tk">0.25</text>
<rect x="964.2" y="941.60" width="6.8" height="2.2" fill="#222"/>
<text transform="translate(959.3,950.30) scale(1,1.035)" class="tk">0.25</text>
<rect x="85.0" y="1248.30" width="6.8" height="2.2" fill="#222"/>
<text transform="translate(79.9,1257.00) scale(1,1.035)" class="tk">0.00</text>
<rect x="964.2" y="1248.30" width="6.8" height="2.2" fill="#222"/>
<text transform="translate(959.3,1257.00) scale(1,1.035)" class="tk">0.00</text>
<rect x="1808.3" y="360.30" width="43.5" height="41.6" fill="#9E0142"/>
<text x="1868.1" y="389.90" class="lg">Pacisporaceae</text>
<rect x="1808.3" y="406.28" width="43.5" height="41.6" fill="#CC344D"/>
<text x="1868.1" y="435.88" class="lg">Ambisporaceae</text>
<rect x="1808.3" y="452.26" width="43.5" height="41.6" fill="#EA5D47"/>
<text x="1868.1" y="481.86" class="lg">Unknown</text>
<rect x="1808.3" y="498.24" width="43.5" height="41.6" fill="#F88E52"/>
<text x="1868.1" y="527.84" class="lg">Gigasporaceae</text>
<rect x="1808.3" y="544.22" width="43.5" height="41.6" fill="#FDBF6F"/>
<text x="1868.1" y="573.82" class="lg">Diversisporales</text>
<rect x="1808.3" y="590.20" width="43.5" height="41.6" fill="#FEE594"/>
<text x="1868.1" y="619.80" class="lg">Acaulosporaceae</text>
<rect x="1808.3" y="636.18" width="43.5" height="41.6" fill="#FFFFBF"/>
<text x="1868.1" y="665.78" class="lg">Diversisporaceae</text>
<rect x="1808.3" y="682.16" width="43.5" height="41.6" fill="#EAF79F"/>
<text x="1868.1" y="711.76" class="lg">uncultured</text>
<rect x="1808.3" y="728.14" width="43.5" height="41.6" fill="#BFE5A0"/>
<text x="1868.1" y="757.74" class="lg">Archaeosporaceae</text>
<rect x="1808.3" y="774.12" width="43.5" height="41.6" fill="#88D0A4"/>
<text x="1868.1" y="803.72" class="lg">Glomeromycetes</text>
<rect x="1808.3" y="820.10" width="43.5" height="41.6" fill="#55AFAD"/>
<text x="1868.1" y="849.70" class="lg">Paraglomeraceae</text>
<rect x="1808.3" y="866.08" width="43.5" height="41.6" fill="#397FB9"/>
<text x="1868.1" y="895.68" class="lg">Claroideoglomeraceae</text>
<rect x="1808.3" y="912.06" width="43.5" height="41.6" fill="#5E4FA2"/>
<text x="1868.1" y="941.66" class="lg">Glomeraceae</text>
<text x="1805" y="340.3" class="ttl" style="font-size:30px">Family</text>
<text transform="translate(24.8,598.7) rotate(-90)" text-anchor="middle" class="ttl" style="font-size:36px">Relative Abundance</text>
<text x="323.9" y="1298" class="fc">Cropland soils</text>
<text x="1196.3" y="1298" class="fc">Grassland soils</text>
</svg>
</body></html>
